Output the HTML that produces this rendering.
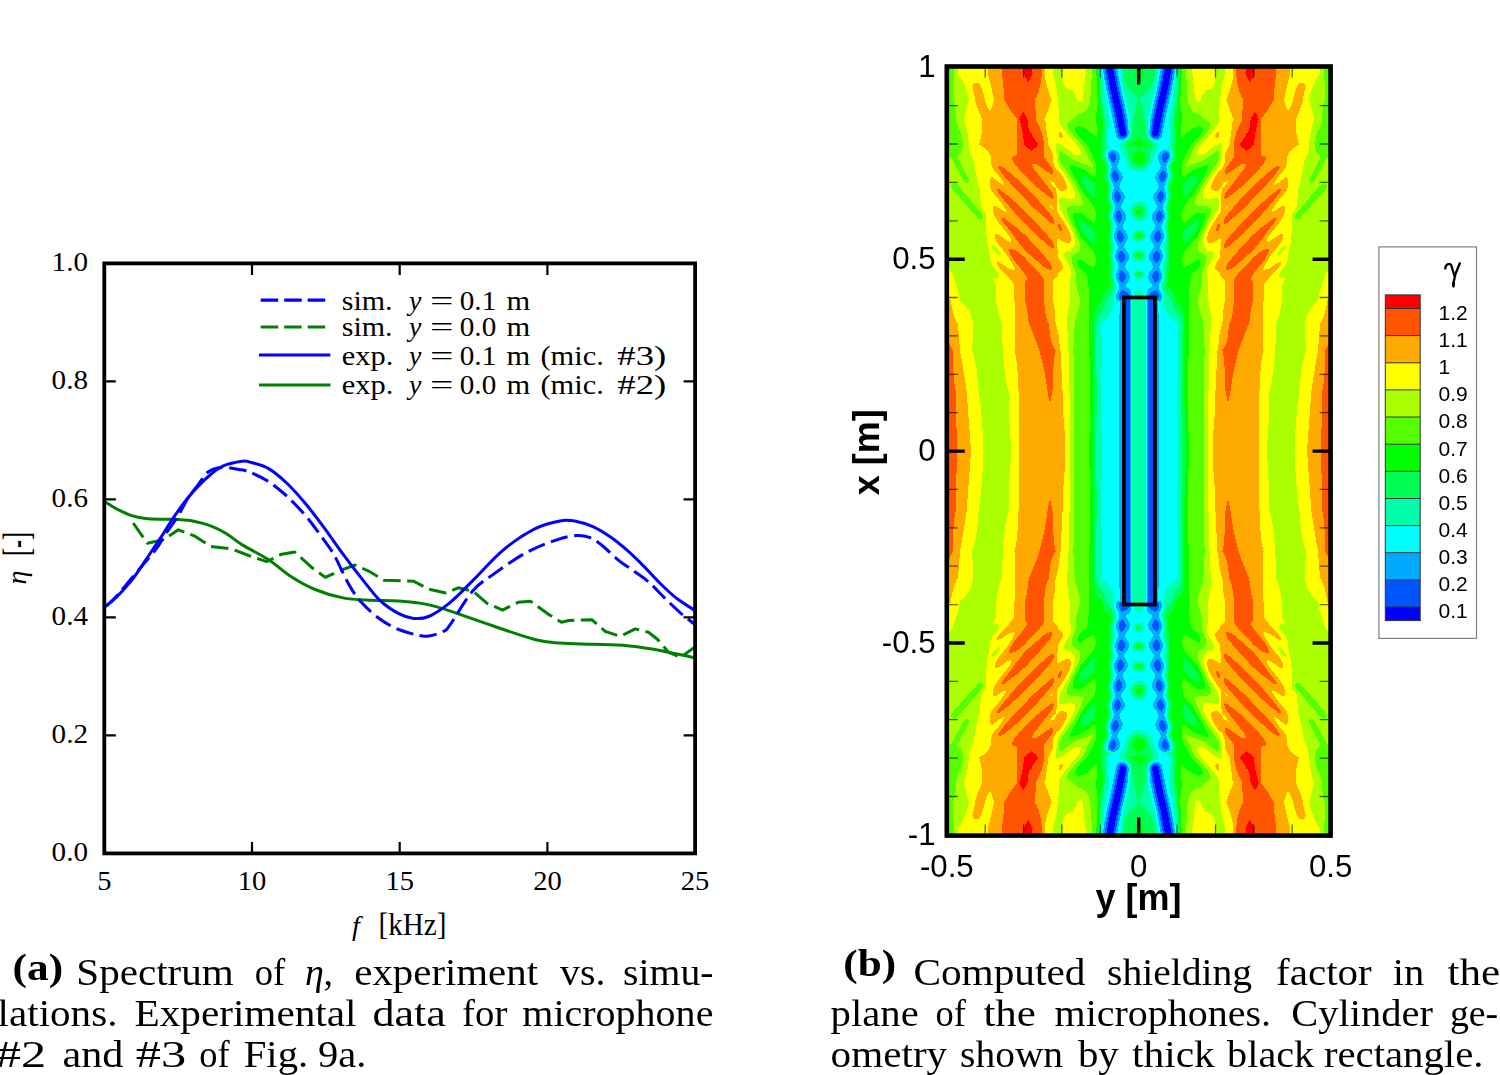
<!DOCTYPE html>
<html><head><meta charset="utf-8"><title>Figure</title>
<style>html,body{margin:0;padding:0;background:#fff;overflow:hidden}svg{display:block}</style>
</head><body>
<svg width="1500" height="1075" viewBox="0 0 1500 1075">
<rect width="1500" height="1075" fill="#fff"/>
<g fill="none" stroke-width="3" stroke-linejoin="round">
<path d="M105.5 502.2 C107.2 503.2 111.5 506.3 115.8 508.5 C120.1 510.7 126.3 513.9 131.6 515.6 C136.9 517.3 142.1 518.2 147.4 518.8 C152.7 519.4 157.9 519.1 163.2 519.2 C168.5 519.3 173.7 519.2 179.0 519.6 C184.3 520.0 189.6 520.5 194.9 521.5 C200.2 522.5 205.4 523.9 210.7 525.9 C216.0 527.9 221.2 530.6 226.5 533.8 C231.8 537.0 235.3 540.6 242.3 544.9 C249.3 549.2 260.5 554.5 268.6 559.8 C276.7 565.1 283.1 571.5 290.9 576.5 C298.6 581.5 306.4 585.9 315.1 589.5 C323.8 593.1 333.7 596.1 343.0 597.9 C352.3 599.7 361.6 599.8 370.9 600.3 C380.2 600.8 389.5 600.4 398.8 601.1 C408.1 601.8 417.8 602.6 426.7 604.4 C435.6 606.1 440.9 608.0 452.0 611.6 C463.1 615.2 479.5 621.4 493.3 626.0 C507.1 630.6 523.6 636.6 534.7 639.5 C545.8 642.4 550.2 642.3 560.0 643.1 C569.8 643.9 582.3 643.9 593.5 644.3 C604.7 644.7 617.2 644.9 627.0 645.7 C636.8 646.5 643.7 647.6 652.1 649.0 C660.5 650.4 670.1 652.5 677.2 654.0 C684.4 655.5 692.0 657.3 695.0 658.0" stroke="#008000"/>
<path d="M133.2 523.0 L147.4 543.3 L163.2 539.8 L178.3 529.8 L194.9 536.2 L210.7 546.4 L231.2 548.8 L250.0 556.0 L266.7 561.6 L281.6 554.2 L294.7 552.0 L311.4 567.2 L325.3 577.4 L339.3 570.9 L355.1 565.0 L369.1 571.3 L384.0 580.2 L413.7 581.2 L428.6 589.2 L445.8 593.0 L458.2 587.8 L472.7 591.0 L487.1 603.3 L502.6 610.1 L518.1 602.3 L530.5 601.3 L549.1 614.7 L561.5 622.3 L568.4 620.5 L591.8 619.7 L605.2 631.4 L620.3 636.4 L635.3 628.9 L648.7 632.3 L657.1 639.0 L668.8 652.4 L680.5 657.4 L695.0 647.0" stroke="#008000" stroke-dasharray="17.5 6.5"/>
<path d="M105.5 606.5 C107.2 604.9 111.1 602.1 115.8 597.0 C120.5 591.9 126.8 583.9 133.5 576.0 C140.2 568.1 150.6 556.2 155.8 549.4 C161.1 542.6 161.3 540.6 165.0 535.0 C168.7 529.4 174.2 522.2 178.0 516.0 C181.8 509.8 184.7 503.2 188.0 498.0 C191.3 492.8 194.7 489.3 198.0 485.0 C201.3 480.7 204.1 474.9 208.0 472.0 C211.9 469.1 216.5 467.8 221.7 467.4 C226.9 467.0 234.3 468.7 239.0 469.5 C243.7 470.3 245.1 470.3 250.0 472.3 C254.9 474.3 262.4 477.6 268.6 481.6 C274.8 485.6 281.0 490.8 287.2 496.5 C293.4 502.2 300.2 509.5 305.8 516.0 C311.4 522.5 316.1 529.2 320.7 535.6 C325.3 542.0 329.0 546.1 333.7 554.2 C338.4 562.3 344.0 575.9 348.6 584.0 C353.2 592.1 356.3 596.7 361.6 602.6 C366.9 608.5 374.0 614.8 380.2 619.3 C386.4 623.8 392.6 626.9 398.8 629.5 C405.0 632.1 412.4 634.0 417.4 635.1 C422.4 636.2 424.2 636.6 428.6 636.0 C433.0 635.4 439.9 633.2 443.5 631.4 C447.1 629.5 445.1 631.6 450.0 624.9 C454.9 618.2 465.5 599.4 472.7 591.0 C479.9 582.6 484.7 580.6 493.3 574.4 C501.9 568.2 514.0 559.4 524.3 553.7 C534.6 548.0 546.6 543.3 555.3 540.3 C564.0 537.3 570.9 535.9 576.7 535.5 C582.5 535.1 585.9 536.1 590.1 537.7 C594.3 539.3 597.1 541.4 601.9 545.2 C606.6 549.0 613.0 555.8 618.6 560.3 C624.2 564.8 630.3 568.4 635.3 572.0 C640.3 575.6 644.0 577.8 648.7 582.0 C653.5 586.2 658.5 591.9 663.8 597.1 C669.1 602.3 675.3 608.4 680.5 613.0 C685.7 617.6 692.6 622.6 695.0 624.5" stroke="#0000ff" stroke-dasharray="17.5 6.5"/>
<path d="M105.5 606.5 C107.2 605.0 111.5 602.1 115.8 597.8 C120.1 593.4 126.3 587.1 131.6 580.4 C136.9 573.7 142.1 565.3 147.4 557.5 C152.7 549.7 158.7 540.6 163.2 533.8 C167.7 526.9 170.3 522.2 174.3 516.4 C178.3 510.6 183.1 504.0 187.0 499.0 C190.9 494.0 194.1 490.5 198.0 486.4 C201.9 482.3 206.5 477.9 210.7 474.5 C214.9 471.1 218.0 468.0 223.3 465.8 C228.6 463.6 237.9 461.8 242.3 461.2 C246.8 460.6 245.6 460.9 250.0 462.1 C254.4 463.3 262.4 465.0 268.6 468.6 C274.8 472.2 281.0 477.6 287.2 483.5 C293.4 489.4 299.6 496.6 305.8 504.0 C312.0 511.4 318.2 519.7 324.4 528.1 C330.6 536.5 336.8 545.8 343.0 554.2 C349.2 562.6 355.4 570.6 361.6 578.4 C367.8 586.1 374.0 594.8 380.2 600.7 C386.4 606.6 393.2 610.8 398.8 613.7 C404.4 616.7 408.7 617.9 413.7 618.4 C418.7 618.9 422.6 619.1 428.6 616.5 C434.7 613.9 442.6 608.6 450.0 602.6 C457.4 596.6 463.8 589.4 472.7 580.6 C481.6 571.8 493.4 558.2 503.7 549.6 C514.0 541.0 525.3 533.7 534.7 528.9 C544.1 524.1 553.0 522.1 560.0 520.9 C567.0 519.6 571.1 520.4 576.7 521.4 C582.3 522.4 587.9 524.2 593.5 526.8 C599.1 529.4 604.6 532.9 610.2 536.8 C615.8 540.7 621.4 545.3 627.0 550.2 C632.6 555.1 638.1 560.5 643.7 566.1 C649.3 571.7 654.9 578.2 660.5 583.7 C666.1 589.2 671.5 594.3 677.2 598.8 C683.0 603.3 692.0 608.5 695.0 610.5" stroke="#0000ff"/>
</g>
<rect x="104.3" y="263.4" width="590.8" height="590.0" fill="none" stroke="#000" stroke-width="3.8"/>
<path d="M252.0 263.4v11.5M252.0 853.4v-11.5M399.7 263.4v11.5M399.7 853.4v-11.5M547.4 263.4v11.5M547.4 853.4v-11.5M104.3 735.4h11.5M695.1 735.4h-11.5M104.3 617.4h11.5M695.1 617.4h-11.5M104.3 499.4h11.5M695.1 499.4h-11.5M104.3 381.4h11.5M695.1 381.4h-11.5" stroke="#000" stroke-width="2.2" fill="none"/>
<g font-family="Liberation Serif" font-size="28" fill="#000">
<text x="88" y="860.6" text-anchor="end" textLength="36.4" lengthAdjust="spacingAndGlyphs">0.0</text>
<text x="88" y="742.6" text-anchor="end" textLength="36.4" lengthAdjust="spacingAndGlyphs">0.2</text>
<text x="88" y="624.6" text-anchor="end" textLength="36.4" lengthAdjust="spacingAndGlyphs">0.4</text>
<text x="88" y="506.6" text-anchor="end" textLength="36.4" lengthAdjust="spacingAndGlyphs">0.6</text>
<text x="88" y="388.6" text-anchor="end" textLength="36.4" lengthAdjust="spacingAndGlyphs">0.8</text>
<text x="88" y="270.6" text-anchor="end" textLength="36.4" lengthAdjust="spacingAndGlyphs">1.0</text>
<text x="104.3" y="889.8" text-anchor="middle" textLength="14.2" lengthAdjust="spacingAndGlyphs">5</text>
<text x="252.0" y="889.8" text-anchor="middle" textLength="28.5" lengthAdjust="spacingAndGlyphs">10</text>
<text x="399.7" y="889.8" text-anchor="middle" textLength="28.5" lengthAdjust="spacingAndGlyphs">15</text>
<text x="547.4" y="889.8" text-anchor="middle" textLength="28.5" lengthAdjust="spacingAndGlyphs">20</text>
<text x="695.1" y="889.8" text-anchor="middle" textLength="28.5" lengthAdjust="spacingAndGlyphs">25</text>
<text x="352" y="934.5" font-style="italic">f</text>
<text x="378.5" y="934.5" font-size="31" textLength="68" lengthAdjust="spacingAndGlyphs">[kHz]</text>
<text transform="translate(26 577.5) rotate(-90)" text-anchor="middle" font-style="italic">η</text>
<text transform="translate(28.7 544) rotate(-90)" text-anchor="middle" font-size="37" textLength="24" lengthAdjust="spacingAndGlyphs">[-]</text>
</g>
<g stroke-width="3.2" fill="none">
<path d="M260.7 300.1H326" stroke="#0000ff" stroke-dasharray="17.5 6"/>
<path d="M260.7 327H326" stroke="#008000" stroke-dasharray="17.5 6"/>
<path d="M259 355H330.4" stroke="#0000ff"/>
<path d="M259 385H330.4" stroke="#008000"/>
</g>
<g font-family="Liberation Serif" font-size="27.8" fill="#000">
<text x="341.8" y="309.6" textLength="50.8" lengthAdjust="spacingAndGlyphs">sim.</text>
<text x="409" y="309.6" font-style="italic">y</text>
<text x="430" y="309.6" textLength="23.5" lengthAdjust="spacingAndGlyphs">=</text>
<text x="459.8" y="309.6" textLength="36.4" lengthAdjust="spacingAndGlyphs">0.1</text>
<text x="506.6" y="309.6" textLength="23.7" lengthAdjust="spacingAndGlyphs">m</text>
<text x="341.8" y="336.2" textLength="50.8" lengthAdjust="spacingAndGlyphs">sim.</text>
<text x="409" y="336.2" font-style="italic">y</text>
<text x="430" y="336.2" textLength="23.5" lengthAdjust="spacingAndGlyphs">=</text>
<text x="459.8" y="336.2" textLength="36.4" lengthAdjust="spacingAndGlyphs">0.0</text>
<text x="506.6" y="336.2" textLength="23.7" lengthAdjust="spacingAndGlyphs">m</text>
<text x="341.8" y="364.5" textLength="51.5" lengthAdjust="spacingAndGlyphs">exp.</text>
<text x="409" y="364.5" font-style="italic">y</text>
<text x="430" y="364.5" textLength="23.5" lengthAdjust="spacingAndGlyphs">=</text>
<text x="459.8" y="364.5" textLength="36.4" lengthAdjust="spacingAndGlyphs">0.1</text>
<text x="506.6" y="364.5" textLength="23.7" lengthAdjust="spacingAndGlyphs">m</text>
<text x="540.5" y="364.5" textLength="63.3" lengthAdjust="spacingAndGlyphs">(mic.</text>
<text x="617.3" y="364.5" textLength="49.1" lengthAdjust="spacingAndGlyphs">#3)</text>
<text x="341.8" y="394.0" textLength="51.5" lengthAdjust="spacingAndGlyphs">exp.</text>
<text x="409" y="394.0" font-style="italic">y</text>
<text x="430" y="394.0" textLength="23.5" lengthAdjust="spacingAndGlyphs">=</text>
<text x="459.8" y="394.0" textLength="36.4" lengthAdjust="spacingAndGlyphs">0.0</text>
<text x="506.6" y="394.0" textLength="23.7" lengthAdjust="spacingAndGlyphs">m</text>
<text x="540.5" y="394.0" textLength="63.3" lengthAdjust="spacingAndGlyphs">(mic.</text>
<text x="617.3" y="394.0" textLength="49.1" lengthAdjust="spacingAndGlyphs">#2)</text>
</g>
<g>
</g>
<defs><g id="q" shape-rendering="crispEdges">
<path fill="#0000ff" d="M14 315h4v1h-4zM13 316h6v3h-6zM13 319h7v1h-7zM14 320h6v4h-6zM14 324h7v2h-7zM15 326h6v3h-6zM15 329h7v3h-7zM16 332h6v2h-6zM16 334h7v3h-7zM17 337h6v2h-6zM17 339h7v3h-7zM18 342h6v2h-6zM18 344h7v2h-7zM19 346h6v2h-6zM19 348h7v3h-7zM20 351h6v1h-6zM20 352h7v3h-7zM21 355h6v2h-6zM21 357h7v2h-7zM22 359h6v2h-6zM22 361h7v3h-7zM23 364h6v2h-6zM23 366h7v3h-7zM24 369h6v3h-6zM24 372h7v3h-7zM25 375h6v2h-6zM25 377h7v3h-7zM26 380h6v2h-6zM26 382h7v3h-7zM27 385h6v1h-6z"/>
<path fill="#0055ff" d="M9 0h6v1h-6zM9 1h7v1h-7zM9 2h6v12h-6zM9 14h7v1h-7zM9 15h6v3h-6zM9 18h7v1h-7zM9 19h6v53h-6zM9 72h7v1h-7zM9 73h6v34h-6zM9 107h7v1h-7zM9 108h6v42h-6zM9 150h8v1h-8zM9 151h10v1h-10zM9 152h11v4h-11zM10 156h10v1h-10zM11 157h8v1h-8zM12 158h7v1h-7zM14 159h4v1h-4zM16 160h1v1h-1zM16 168h1v1h-1zM15 169h3v1h-3zM15 170h4v1h-4zM14 171h6v2h-6zM13 173h7v3h-7zM14 176h6v2h-6zM15 178h4v1h-4zM16 179h3v1h-3zM17 180h1v1h-1zM17 188h1v1h-1zM16 189h3v1h-3zM15 190h5v2h-5zM14 192h7v5h-7zM15 197h6v1h-6zM16 198h4v1h-4zM16 199h3v1h-3zM18 208h1v1h-1zM17 209h3v1h-3zM16 210h5v2h-5zM15 212h7v4h-7zM16 216h6v2h-6zM17 218h4v1h-4zM18 219h3v1h-3zM19 220h1v1h-1zM19 228h1v1h-1zM19 229h2v1h-2zM18 230h4v1h-4zM17 231h6v3h-6zM17 234h7v2h-7zM17 236h6v1h-6zM18 237h5v2h-5zM19 239h3v1h-3zM20 240h1v1h-1zM21 248h1v1h-1zM20 249h3v1h-3zM19 250h4v1h-4zM19 251h5v1h-5zM18 252h6v1h-6zM18 253h7v3h-7zM19 256h6v1h-6zM19 257h5v1h-5zM20 258h4v1h-4zM21 259h2v1h-2zM22 260h1v1h-1zM22 269h2v1h-2zM21 270h4v1h-4zM21 271h5v1h-5zM20 272h6v1h-6zM20 273h7v3h-7zM21 276h6v2h-6zM22 278h4v1h-4zM23 279h3v1h-3zM24 280h1v1h-1zM25 288h1v1h-1zM24 289h3v1h-3zM24 290h4v1h-4zM23 291h5v1h-5zM23 292h6v2h-6zM23 294h7v2h-7zM24 296h6v1h-6zM24 297h5v1h-5zM26 298h2v1h-2zM14 313h5v1h-5zM13 314h7v1h-7zM18 315h3v1h-3zM12 315h2v1h-2zM19 316h2v2h-2zM19 318h3v1h-3zM12 316h1v4h-1zM20 319h2v4h-2zM20 323h3v1h-3zM12 320h2v5h-2zM13 325h1v1h-1zM21 324h2v4h-2zM21 328h3v1h-3zM13 326h2v6h-2zM22 329h2v5h-2zM14 332h2v5h-2zM23 334h2v5h-2zM15 337h2v5h-2zM24 339h2v4h-2zM24 343h3v1h-3zM16 342h2v4h-2zM16 346h3v1h-3zM25 344h2v4h-2zM17 347h2v4h-2zM26 348h2v4h-2zM18 351h2v4h-2zM27 352h2v4h-2zM27 356h3v1h-3zM19 355h2v4h-2zM19 359h3v1h-3zM28 357h2v4h-2zM20 360h2v4h-2zM29 361h2v5h-2zM21 364h2v5h-2zM21 369h3v1h-3zM30 366h2v5h-2zM30 371h3v1h-3zM22 370h2v5h-2zM31 372h2v5h-2zM23 375h2v5h-2zM32 377h2v5h-2zM24 380h2v5h-2zM33 382h2v4h-2zM24 385h3v1h-3z"/>
<path fill="#00aaff" d="M15 0h5v1h-5zM16 1h4v1h-4zM15 2h5v12h-5zM16 14h4v1h-4zM15 15h5v3h-5zM16 18h4v1h-4zM15 19h5v53h-5zM16 72h4v1h-4zM15 73h5v34h-5zM16 107h4v1h-4zM15 108h5v29h-5zM15 137h4v13h-4zM17 150h5v1h-5zM19 151h3v1h-3zM8 0h1v153h-1zM7 153h2v3h-2zM20 152h3v5h-3zM8 156h2v1h-2zM8 157h3v1h-3zM19 157h3v2h-3zM8 158h4v1h-4zM8 159h6v1h-6zM18 159h3v1h-3zM9 160h7v1h-7zM17 160h4v1h-4zM9 161h11v1h-11zM10 162h10v1h-10zM12 163h8v1h-8zM13 164h7v3h-7zM12 167h8v1h-8zM11 168h5v1h-5zM17 168h4v1h-4zM18 169h3v1h-3zM11 169h4v1h-4zM19 170h3v1h-3zM10 170h5v1h-5zM10 171h4v1h-4zM20 171h2v1h-2zM9 172h5v1h-5zM9 173h4v3h-4zM20 172h3v6h-3zM10 176h4v2h-4zM10 178h5v1h-5zM19 178h3v2h-3zM11 179h5v1h-5zM18 180h3v1h-3zM12 180h5v1h-5zM13 181h8v2h-8zM14 183h6v2h-6zM14 185h7v1h-7zM13 186h8v2h-8zM12 188h5v1h-5zM18 188h4v1h-4zM19 189h3v1h-3zM12 189h4v1h-4zM11 190h4v1h-4zM20 190h3v2h-3zM10 191h5v1h-5zM21 192h3v5h-3zM10 192h4v5h-4zM11 197h4v1h-4zM21 197h2v1h-2zM11 198h5v1h-5zM20 198h3v1h-3zM19 199h4v1h-4zM12 199h4v1h-4zM13 200h9v2h-9zM14 202h7v1h-7zM15 203h6v3h-6zM14 206h8v2h-8zM19 208h4v1h-4zM13 208h5v1h-5zM20 209h3v1h-3zM13 209h4v1h-4zM21 210h3v2h-3zM12 210h4v2h-4zM11 212h4v4h-4zM22 212h3v6h-3zM12 216h4v2h-4zM13 218h4v1h-4zM21 218h3v2h-3zM13 219h5v1h-5zM14 220h5v1h-5zM20 220h3v1h-3zM15 221h8v1h-8zM16 222h7v1h-7zM16 223h6v2h-6zM16 225h7v2h-7zM15 227h8v1h-8zM15 228h4v1h-4zM20 228h4v1h-4zM21 229h3v1h-3zM14 229h5v1h-5zM22 230h3v1h-3zM14 230h4v1h-4zM23 231h2v1h-2zM23 232h3v2h-3zM24 234h2v2h-2zM13 231h4v6h-4zM23 236h3v2h-3zM14 237h4v2h-4zM23 238h2v1h-2zM22 239h3v1h-3zM15 239h4v1h-4zM16 240h4v1h-4zM21 240h4v1h-4zM17 241h7v2h-7zM18 243h6v3h-6zM17 246h7v1h-7zM17 247h8v1h-8zM22 248h3v1h-3zM16 248h5v1h-5zM16 249h4v1h-4zM23 249h3v2h-3zM15 250h4v2h-4zM24 251h3v2h-3zM14 252h4v4h-4zM25 253h2v4h-2zM15 256h4v2h-4zM24 257h3v2h-3zM16 258h4v1h-4zM17 259h4v1h-4zM23 259h3v2h-3zM18 260h4v1h-4zM18 261h8v1h-8zM19 262h6v2h-6zM20 264h5v1h-5zM19 265h7v3h-7zM18 268h9v1h-9zM24 269h3v1h-3zM18 269h4v1h-4zM25 270h3v1h-3zM17 270h4v2h-4zM26 271h2v2h-2zM16 272h4v3h-4zM17 275h3v1h-3zM27 273h2v5h-2zM17 276h4v2h-4zM18 278h4v1h-4zM26 278h2v2h-2zM19 279h4v1h-4zM20 280h4v1h-4zM25 280h3v1h-3zM20 281h8v1h-8zM21 282h7v1h-7zM21 283h6v1h-6zM22 284h5v1h-5zM22 285h6v1h-6zM21 286h7v2h-7zM20 288h5v1h-5zM26 288h3v1h-3zM27 289h2v1h-2zM20 289h4v2h-4zM28 290h2v2h-2zM29 292h2v2h-2zM19 291h4v5h-4zM30 294h1v3h-1zM20 296h4v2h-4zM29 297h2v1h-2zM21 298h5v1h-5zM28 298h3v1h-3zM22 299h8v1h-8zM24 300h4v1h-4zM15 311h5v1h-5zM13 312h8v1h-8zM19 313h3v1h-3zM12 313h2v1h-2zM11 314h2v1h-2zM20 314h3v1h-3zM11 315h1v1h-1zM21 315h2v3h-2zM10 316h2v5h-2zM22 318h2v5h-2zM11 321h1v4h-1zM23 323h2v5h-2zM11 325h2v7h-2zM24 328h2v5h-2zM24 333h3v1h-3zM12 332h2v5h-2zM25 334h2v4h-2zM25 338h3v1h-3zM13 337h2v5h-2zM26 339h2v4h-2zM14 342h2v5h-2zM27 343h2v4h-2zM27 347h3v1h-3zM15 347h2v4h-2zM28 348h2v4h-2zM16 351h2v4h-2zM29 352h2v4h-2zM17 355h2v4h-2zM30 356h2v4h-2zM18 359h1v1h-1zM30 360h3v1h-3zM18 360h2v4h-2zM18 364h3v1h-3zM31 361h2v5h-2zM19 365h2v5h-2zM32 366h2v5h-2zM20 370h2v5h-2zM33 371h2v6h-2zM34 377h1v1h-1zM21 375h2v5h-2zM21 380h3v1h-3zM34 378h2v4h-2zM22 381h2v5h-2zM35 382h1v4h-1z"/>
<path fill="#00ffff" d="M20 0h18v128h-18zM20 128h17v1h-17zM20 129h16v1h-16zM20 130h14v1h-14zM20 131h13v1h-13zM20 132h12v1h-12zM20 133h11v1h-11zM20 134h10v2h-10zM20 136h9v1h-9zM19 137h9v2h-9zM19 139h8v2h-8zM19 141h7v3h-7zM19 144h6v4h-6zM19 148h5v2h-5zM7 0h1v151h-1zM22 150h3v2h-3zM6 151h2v2h-2zM5 153h2v3h-2zM23 152h2v5h-2zM5 156h3v2h-3zM22 157h3v1h-3zM22 158h2v1h-2zM4 158h4v1h-4zM3 159h5v1h-5zM21 159h3v2h-3zM2 160h7v1h-7zM0 161h9v1h-9zM0 162h10v1h-10zM0 163h12v1h-12zM0 164h13v3h-13zM20 161h3v7h-3zM0 167h12v1h-12zM21 168h2v1h-2zM0 168h11v2h-11zM21 169h3v1h-3zM22 170h2v2h-2zM0 170h10v2h-10zM3 172h6v1h-6zM4 173h5v1h-5zM5 174h4v2h-4zM23 172h2v6h-2zM6 176h4v2h-4zM22 178h3v1h-3zM5 178h5v1h-5zM4 179h7v1h-7zM22 179h2v1h-2zM3 180h9v1h-9zM21 180h3v3h-3zM0 181h13v2h-13zM20 183h4v2h-4zM0 183h14v3h-14zM21 185h3v3h-3zM0 186h13v2h-13zM0 188h12v2h-12zM22 188h3v2h-3zM4 190h7v1h-7zM23 190h2v1h-2zM23 191h3v1h-3zM5 191h5v1h-5zM6 192h4v1h-4zM24 192h2v1h-2zM24 193h3v4h-3zM7 193h3v4h-3zM7 197h4v1h-4zM6 198h5v1h-5zM23 197h3v3h-3zM5 199h7v1h-7zM4 200h9v1h-9zM22 200h3v2h-3zM0 201h13v1h-13zM0 202h14v1h-14zM21 202h4v4h-4zM0 203h15v3h-15zM0 206h14v2h-14zM22 206h3v2h-3zM23 208h3v2h-3zM0 208h13v2h-13zM24 210h2v1h-2zM4 210h8v1h-8zM24 211h3v1h-3zM5 211h7v1h-7zM6 212h5v1h-5zM7 213h4v3h-4zM25 212h2v6h-2zM7 216h5v2h-5zM6 218h7v1h-7zM24 218h3v1h-3zM5 219h8v1h-8zM24 219h2v1h-2zM4 220h10v1h-10zM0 221h15v1h-15zM23 220h3v3h-3zM22 223h4v2h-4zM0 222h16v5h-16zM23 225h3v3h-3zM0 227h15v2h-15zM24 228h2v1h-2zM0 229h14v1h-14zM24 229h3v1h-3zM4 230h10v1h-10zM25 230h2v2h-2zM5 231h8v1h-8zM6 232h7v1h-7zM26 232h1v2h-1zM7 233h6v1h-6zM26 234h2v2h-2zM8 234h5v3h-5zM26 236h1v2h-1zM9 237h5v2h-5zM9 239h6v1h-6zM25 238h2v3h-2zM9 240h7v1h-7zM9 241h8v2h-8zM24 241h3v2h-3zM8 243h10v2h-10zM24 243h2v2h-2zM7 245h11v1h-11zM24 245h3v2h-3zM6 246h11v1h-11zM5 247h12v1h-12zM25 247h2v2h-2zM4 248h12v1h-12zM0 249h16v1h-16zM26 249h2v2h-2zM0 250h15v2h-15zM27 251h1v2h-1zM0 252h14v4h-14zM27 253h2v4h-2zM0 256h15v2h-15zM27 257h1v2h-1zM0 258h16v1h-16zM0 259h17v1h-17zM26 259h2v3h-2zM0 260h18v2h-18zM0 262h19v2h-19zM25 262h3v3h-3zM0 264h20v1h-20zM26 265h2v3h-2zM0 265h19v3h-19zM27 268h2v2h-2zM0 268h18v2h-18zM28 270h1v1h-1zM0 270h17v2h-17zM28 271h2v2h-2zM0 272h16v3h-16zM29 273h1v5h-1zM0 275h17v3h-17zM0 278h18v1h-18zM3 279h16v1h-16zM28 278h2v3h-2zM6 280h14v1h-14zM7 281h13v1h-13zM28 281h1v2h-1zM9 282h12v1h-12zM10 283h11v1h-11zM27 283h2v2h-2zM11 284h11v1h-11zM28 285h1v1h-1zM12 285h10v1h-10zM12 286h9v1h-9zM28 286h2v2h-2zM13 287h8v1h-8zM13 288h7v1h-7zM29 288h1v1h-1zM29 289h2v1h-2zM14 289h6v2h-6zM30 290h1v1h-1zM30 291h2v1h-2zM14 291h5v2h-5zM31 292h1v1h-1zM15 293h4v3h-4zM16 296h4v2h-4zM31 293h2v6h-2zM17 298h4v1h-4zM30 299h2v1h-2zM17 299h5v1h-5zM18 300h6v1h-6zM28 300h4v1h-4zM19 301h7v1h-7zM19 302h9v2h-9zM19 304h10v1h-10zM19 305h12v3h-12zM18 308h13v1h-13zM16 309h15v1h-15zM14 310h17v1h-17zM20 311h11v1h-11zM12 311h3v1h-3zM21 312h10v1h-10zM11 312h2v1h-2zM10 313h2v1h-2zM22 313h9v1h-9zM10 314h1v1h-1zM9 315h2v1h-2zM23 314h8v4h-8zM9 316h1v5h-1zM24 318h7v5h-7zM25 323h6v1h-6zM25 324h5v4h-5zM9 321h2v11h-2zM26 328h4v5h-4zM9 332h3v2h-3zM27 333h3v4h-3zM10 334h2v3h-2zM27 337h4v1h-4zM10 337h3v2h-3zM28 338h3v4h-3zM11 339h2v3h-2zM11 342h3v1h-3zM28 342h4v1h-4zM29 343h3v1h-3zM29 344h4v2h-4zM12 343h2v4h-2zM29 346h5v1h-5zM12 347h3v1h-3zM13 348h2v3h-2zM30 347h4v5h-4zM13 351h3v2h-3zM14 353h2v2h-2zM31 352h3v4h-3zM14 355h3v1h-3zM32 356h2v1h-2zM15 356h2v3h-2zM32 357h3v3h-3zM16 359h2v5h-2zM17 364h1v1h-1zM33 360h2v6h-2zM17 365h2v5h-2zM34 366h2v5h-2zM17 370h3v1h-3zM35 371h1v3h-1zM18 371h2v4h-2zM35 374h2v4h-2zM18 375h3v6h-3zM36 378h1v4h-1zM18 381h4v5h-4zM36 382h2v4h-2z"/>
<path fill="#00ffaa" d="M38 0h5v34h-5zM38 34h4v39h-4zM38 73h5v55h-5zM37 128h5v1h-5zM36 129h6v1h-6zM34 130h8v1h-8zM33 131h9v1h-9zM32 132h10v1h-10zM31 133h10v1h-10zM30 134h10v2h-10zM29 136h10v1h-10zM28 137h10v1h-10zM28 138h9v1h-9zM27 139h10v1h-10zM27 140h9v1h-9zM26 141h10v1h-10zM26 142h9v2h-9zM25 144h9v3h-9zM25 147h8v1h-8zM24 148h9v2h-9zM0 0h7v151h-7zM25 150h7v2h-7zM0 151h6v2h-6zM25 152h6v1h-6zM25 153h5v1h-5zM25 154h4v1h-4zM25 155h3v2h-3zM0 153h5v5h-5zM25 157h2v1h-2zM24 158h3v1h-3zM0 158h4v1h-4zM0 159h3v1h-3zM24 159h2v2h-2zM0 160h2v1h-2zM23 161h3v1h-3zM23 162h2v7h-2zM24 169h2v3h-2zM0 172h3v1h-3zM0 173h4v1h-4zM2 174h3v1h-3zM3 175h2v1h-2zM3 176h3v2h-3zM25 172h2v7h-2zM2 178h3v1h-3zM0 179h4v1h-4zM0 180h3v1h-3zM24 179h3v9h-3zM25 188h2v2h-2zM0 190h4v1h-4zM25 190h3v1h-3zM0 191h5v1h-5zM26 191h2v2h-2zM3 192h3v1h-3zM4 193h3v1h-3zM27 193h1v4h-1zM5 194h2v3h-2zM4 197h3v1h-3zM3 198h3v1h-3zM26 197h2v3h-2zM0 199h5v1h-5zM0 200h4v1h-4zM25 200h3v8h-3zM26 208h2v3h-2zM0 210h4v1h-4zM0 211h5v1h-5zM3 212h3v1h-3zM4 213h3v1h-3zM5 214h2v3h-2zM4 217h3v1h-3zM27 211h1v8h-1zM3 218h3v1h-3zM0 219h5v1h-5zM0 220h4v1h-4zM26 219h2v4h-2zM26 223h1v3h-1zM26 226h2v3h-2zM27 229h1v2h-1zM0 230h4v1h-4zM0 231h5v1h-5zM0 232h6v1h-6zM27 231h2v3h-2zM2 233h5v1h-5zM4 234h4v1h-4zM28 234h1v2h-1zM5 235h3v2h-3zM27 236h2v4h-2zM6 237h3v5h-3zM27 240h1v3h-1zM5 242h4v1h-4zM5 243h3v1h-3zM26 243h2v2h-2zM4 244h4v1h-4zM2 245h5v1h-5zM27 245h1v2h-1zM0 246h6v1h-6zM0 247h5v1h-5zM27 247h2v2h-2zM0 248h4v1h-4zM28 249h1v2h-1zM28 251h2v2h-2zM29 253h1v4h-1zM28 257h2v3h-2zM28 260h1v6h-1zM28 266h2v2h-2zM29 268h1v2h-1zM29 270h2v1h-2zM30 271h1v2h-1zM30 273h2v5h-2zM0 279h3v1h-3zM30 278h1v3h-1zM0 280h6v1h-6zM0 281h7v1h-7zM0 282h9v1h-9zM1 283h9v1h-9zM5 284h6v1h-6zM29 281h2v5h-2zM6 285h6v1h-6zM30 286h1v1h-1zM7 286h5v1h-5zM8 287h5v1h-5zM30 287h2v2h-2zM9 288h4v1h-4zM9 289h5v1h-5zM31 289h2v2h-2zM10 290h4v3h-4zM32 291h2v2h-2zM10 293h5v1h-5zM11 294h4v2h-4zM11 296h5v2h-5zM33 293h2v6h-2zM11 298h6v1h-6zM12 299h5v1h-5zM32 299h2v2h-2zM12 300h6v1h-6zM12 301h7v1h-7zM26 301h6v1h-6zM28 302h5v2h-5zM13 302h6v2h-6zM29 304h5v1h-5zM14 304h5v2h-5zM15 306h4v1h-4zM14 307h5v1h-5zM13 308h5v1h-5zM12 309h4v1h-4zM11 310h3v1h-3zM10 311h2v1h-2zM9 312h2v1h-2zM9 313h1v1h-1zM8 314h2v1h-2zM8 315h1v1h-1zM31 305h3v19h-3zM7 316h2v11h-2zM6 327h3v5h-3zM30 324h4v9h-4zM5 332h4v2h-4zM30 333h5v4h-5zM5 334h5v4h-5zM4 338h6v1h-6zM31 337h4v5h-4zM4 339h7v4h-7zM32 342h4v2h-4zM33 344h3v2h-3zM3 343h9v4h-9zM34 346h2v2h-2zM2 347h10v1h-10zM2 348h11v1h-11zM34 348h3v4h-3zM1 349h12v4h-12zM2 353h12v1h-12zM3 354h11v1h-11zM4 355h10v1h-10zM34 352h4v5h-4zM5 356h10v1h-10zM6 357h9v1h-9zM7 358h8v1h-8zM8 359h8v1h-8zM9 360h7v1h-7zM10 361h6v1h-6zM11 362h5v2h-5zM35 357h3v9h-3zM12 364h5v2h-5zM13 366h4v2h-4zM14 368h3v1h-3zM36 366h2v5h-2zM15 369h2v2h-2zM36 371h3v3h-3zM15 371h3v4h-3zM37 374h2v8h-2zM16 375h2v11h-2zM38 382h1v4h-1z"/>
<path fill="#00ff55" d="M43 0h3v34h-3zM42 34h4v8h-4zM42 42h3v31h-3zM43 73h2v27h-2zM43 100h3v1h-3zM43 101h2v27h-2zM42 128h3v5h-3zM41 133h4v1h-4zM40 134h5v1h-5zM40 135h4v1h-4zM39 136h5v1h-5zM38 137h6v1h-6zM37 138h7v2h-7zM36 140h7v2h-7zM35 142h8v1h-8zM35 143h7v1h-7zM34 144h8v1h-8zM34 145h7v1h-7zM34 146h6v1h-6zM33 147h6v1h-6zM33 148h5v1h-5zM33 149h4v1h-4zM32 150h5v1h-5zM32 151h4v1h-4zM31 152h5v1h-5zM30 153h6v1h-6zM29 154h7v1h-7zM28 155h7v2h-7zM27 157h8v1h-8zM27 158h7v1h-7zM26 159h8v1h-8zM26 160h7v1h-7zM26 161h6v1h-6zM25 162h6v1h-6zM25 163h5v1h-5zM25 164h4v1h-4zM25 165h3v4h-3zM26 169h3v3h-3zM0 174h2v1h-2zM27 172h2v6h-2zM0 175h3v3h-3zM0 178h2v1h-2zM27 178h3v12h-3zM0 192h3v1h-3zM0 193h4v1h-4zM1 194h4v1h-4zM2 195h3v1h-3zM1 196h4v1h-4zM0 197h4v1h-4zM0 198h3v1h-3zM44 207h2v1h-2zM44 208h3v1h-3zM44 209h4v1h-4zM44 210h5v1h-5zM44 211h6v1h-6zM0 212h3v1h-3zM44 212h7v2h-7zM0 213h4v1h-4zM44 214h8v1h-8zM44 215h9v1h-9zM2 214h3v3h-3zM44 216h10v1h-10zM44 217h11v1h-11zM0 217h4v1h-4zM44 218h12v1h-12zM0 218h3v1h-3zM28 190h2v30h-2zM45 219h11v1h-11zM45 220h12v1h-12zM46 221h12v1h-12zM28 220h1v3h-1zM47 222h12v1h-12zM48 223h11v1h-11zM50 224h9v1h-9zM27 223h2v3h-2zM51 225h8v1h-8zM52 226h8v1h-8zM53 227h7v1h-7zM28 226h1v3h-1zM55 228h5v1h-5zM56 229h4v1h-4zM28 229h2v2h-2zM57 230h2v1h-2zM0 233h2v1h-2zM0 234h4v1h-4zM0 235h5v2h-5zM2 237h4v1h-4zM29 231h2v8h-2zM29 239h1v1h-1zM3 238h3v3h-3zM2 241h4v1h-4zM0 242h5v2h-5zM0 244h4v1h-4zM0 245h2v1h-2zM28 240h2v7h-2zM29 247h1v1h-1zM29 248h2v3h-2zM30 251h2v3h-2zM45 253h1v1h-1zM44 254h3v1h-3zM30 254h3v2h-3zM44 255h4v2h-4zM44 257h5v1h-5zM43 258h7v1h-7zM30 256h2v4h-2zM44 259h7v1h-7zM44 260h8v1h-8zM44 261h9v2h-9zM44 263h10v1h-10zM44 264h11v1h-11zM29 260h2v6h-2zM45 265h11v2h-11zM30 266h1v1h-1zM45 267h12v1h-12zM30 267h2v2h-2zM46 268h11v1h-11zM30 269h3v1h-3zM47 269h10v1h-10zM31 270h2v1h-2zM49 270h9v1h-9zM50 271h8v1h-8zM31 271h3v2h-3zM51 272h7v1h-7zM52 273h6v1h-6zM32 273h2v1h-2zM54 274h4v1h-4zM32 274h3v2h-3zM32 276h2v2h-2zM31 278h3v3h-3zM0 283h1v1h-1zM0 284h5v1h-5zM31 281h2v5h-2zM0 285h6v1h-6zM31 286h3v1h-3zM0 286h7v1h-7zM32 287h2v1h-2zM3 287h5v1h-5zM32 288h3v1h-3zM4 288h5v1h-5zM33 289h2v1h-2zM5 289h4v1h-4zM33 290h3v1h-3zM34 291h2v1h-2zM34 292h3v1h-3zM6 290h4v4h-4zM35 293h2v2h-2zM35 295h3v1h-3zM6 294h5v3h-5zM5 297h6v1h-6zM35 296h2v3h-2zM4 298h7v1h-7zM3 299h9v1h-9zM34 299h3v2h-3zM2 300h10v1h-10zM32 301h5v1h-5zM0 301h12v1h-12zM33 302h4v2h-4zM0 302h13v2h-13zM2 304h12v1h-12zM5 305h9v1h-9zM10 306h5v1h-5zM7 307h7v1h-7zM6 308h7v1h-7zM4 309h8v1h-8zM3 310h8v1h-8zM2 311h8v1h-8zM1 312h8v2h-8zM0 314h8v2h-8zM34 304h3v16h-3zM0 316h7v11h-7zM0 327h6v5h-6zM34 320h2v13h-2zM35 333h1v1h-1zM35 334h2v2h-2zM0 332h5v6h-5zM35 336h3v6h-3zM0 338h4v5h-4zM36 342h2v1h-2zM0 343h3v4h-3zM36 343h3v5h-3zM0 347h2v2h-2zM37 348h2v4h-2zM0 349h1v4h-1zM0 353h2v1h-2zM0 354h3v1h-3zM0 355h4v1h-4zM0 356h5v1h-5zM0 357h6v1h-6zM38 352h1v7h-1zM0 358h7v1h-7zM0 359h8v1h-8zM0 360h9v1h-9zM0 361h10v1h-10zM0 362h11v2h-11zM0 364h12v2h-12zM0 366h13v2h-13zM0 368h14v1h-14zM38 359h2v12h-2zM0 369h15v3h-15zM39 371h1v2h-1zM1 372h14v1h-14zM2 373h13v1h-13zM3 374h12v1h-12zM4 375h12v2h-12zM5 377h11v1h-11zM39 373h2v13h-2zM4 378h12v8h-12z"/>
<path fill="#00ff00" d="M46 0h4v18h-4zM46 18h3v24h-3zM45 42h4v51h-4zM45 93h5v7h-5zM46 100h4v1h-4zM45 101h5v34h-5zM44 135h6v5h-6zM43 140h7v3h-7zM42 143h8v2h-8zM41 145h9v1h-9zM40 146h10v1h-10zM39 147h11v1h-11zM38 148h12v1h-12zM37 149h13v2h-13zM36 151h14v4h-14zM35 155h15v3h-15zM34 158h16v2h-16zM33 160h17v1h-17zM32 161h18v1h-18zM31 162h19v1h-19zM30 163h20v1h-20zM29 164h21v1h-21zM28 165h23v4h-23zM29 169h22v3h-22zM29 172h23v4h-23zM29 176h24v2h-24zM30 178h24v1h-24zM30 179h26v1h-26zM30 180h27v1h-27zM30 181h28v1h-28zM30 182h29v1h-29zM30 183h30v1h-30zM30 184h15v1h-15zM47 184h13v1h-13zM49 185h12v1h-12zM51 186h10v1h-10zM30 185h14v3h-14zM53 187h8v1h-8zM54 188h8v1h-8zM56 189h5v1h-5zM57 190h4v1h-4zM58 191h1v1h-1zM30 188h13v6h-13zM0 194h1v1h-1zM0 195h2v1h-2zM30 194h14v3h-14zM0 196h1v1h-1zM30 197h15v2h-15zM30 199h16v2h-16zM30 201h17v1h-17zM30 202h18v1h-18zM30 203h19v1h-19zM30 204h20v1h-20zM30 205h21v1h-21zM30 206h22v1h-22zM46 207h6v1h-6zM47 208h6v1h-6zM48 209h6v1h-6zM49 210h6v1h-6zM50 211h6v1h-6zM51 212h6v1h-6zM51 213h7v1h-7zM52 214h7v1h-7zM53 215h6v1h-6zM0 214h2v3h-2zM54 216h5v1h-5zM55 217h5v1h-5zM30 207h14v12h-14zM56 218h4v1h-4zM30 219h15v1h-15zM56 219h5v1h-5zM57 220h4v1h-4zM29 220h16v1h-16zM29 221h17v1h-17zM58 221h4v1h-4zM59 222h3v1h-3zM29 222h18v1h-18zM29 223h19v1h-19zM59 223h4v2h-4zM29 224h21v1h-21zM29 225h22v1h-22zM59 225h5v1h-5zM29 226h23v1h-23zM60 226h4v2h-4zM29 227h24v1h-24zM29 228h16v1h-16zM46 228h9v1h-9zM60 228h5v2h-5zM47 229h9v1h-9zM30 229h14v2h-14zM59 230h6v1h-6zM48 230h9v1h-9zM49 231h17v1h-17zM51 232h15v1h-15zM52 233h14v1h-14zM53 234h13v1h-13zM54 235h12v1h-12zM56 236h10v1h-10zM57 237h8v1h-8zM0 237h2v1h-2zM31 231h12v8h-12zM0 238h3v3h-3zM0 241h2v1h-2zM30 239h14v5h-14zM30 244h15v2h-15zM30 246h16v1h-16zM30 247h17v1h-17zM31 248h17v1h-17zM31 249h18v2h-18zM32 251h18v1h-18zM32 252h19v1h-19zM32 253h13v1h-13zM46 253h6v1h-6zM47 254h6v1h-6zM33 254h11v2h-11zM48 255h6v2h-6zM32 256h12v2h-12zM49 257h6v1h-6zM50 258h6v1h-6zM32 258h11v1h-11zM32 259h12v1h-12zM51 259h5v1h-5zM52 260h5v1h-5zM53 261h4v1h-4zM53 262h5v1h-5zM54 263h5v1h-5zM31 260h13v5h-13zM55 264h4v1h-4zM56 265h4v2h-4zM31 265h14v2h-14zM32 267h13v1h-13zM57 267h4v2h-4zM32 268h14v1h-14zM33 269h14v1h-14zM57 269h5v1h-5zM58 270h4v1h-4zM33 270h16v1h-16zM58 271h5v1h-5zM34 271h16v1h-16zM34 272h17v1h-17zM58 272h6v2h-6zM34 273h18v1h-18zM35 274h9v1h-9zM46 274h8v1h-8zM58 274h7v1h-7zM35 275h8v1h-8zM47 275h18v1h-18zM48 276h18v1h-18zM50 277h16v1h-16zM51 278h16v1h-16zM52 279h15v1h-15zM34 276h9v5h-9zM53 280h15v1h-15zM55 281h13v1h-13zM58 282h11v1h-11zM60 283h9v1h-9zM63 284h6v1h-6zM33 281h10v5h-10zM66 285h3v1h-3zM34 286h9v2h-9zM0 287h3v1h-3zM0 288h4v1h-4zM35 288h9v2h-9zM0 289h5v1h-5zM36 290h8v1h-8zM36 291h9v1h-9zM37 292h8v2h-8zM37 294h9v1h-9zM38 295h8v1h-8zM0 290h6v7h-6zM37 296h10v1h-10zM0 297h5v1h-5zM37 297h11v2h-11zM0 298h4v1h-4zM0 299h3v1h-3zM37 299h12v2h-12zM0 300h2v1h-2zM37 301h13v2h-13zM37 303h14v2h-14zM0 304h2v1h-2zM0 305h5v1h-5zM37 305h15v2h-15zM0 306h10v1h-10zM0 307h7v1h-7zM37 307h16v1h-16zM37 308h17v1h-17zM0 308h6v1h-6zM190 305h3v5h-3zM0 309h4v1h-4zM37 309h18v1h-18zM0 310h3v1h-3zM37 310h19v1h-19zM0 311h2v1h-2zM37 311h20v1h-20zM37 312h21v1h-21zM191 310h2v4h-2zM0 312h1v2h-1zM37 313h22v1h-22zM44 314h16v1h-16zM45 315h16v1h-16zM192 314h1v3h-1zM46 316h16v1h-16zM47 317h15v1h-15zM48 318h15v1h-15zM37 314h5v6h-5zM50 319h13v1h-13zM51 320h13v1h-13zM52 321h12v1h-12zM54 322h10v1h-10zM56 323h7v1h-7zM59 324h2v1h-2zM36 320h6v8h-6zM36 328h7v6h-7zM37 334h6v2h-6zM38 336h5v3h-5zM38 339h4v4h-4zM39 343h3v2h-3zM39 345h2v11h-2zM39 356h3v3h-3zM40 359h2v14h-2zM0 372h1v1h-1zM0 373h2v1h-2zM0 374h3v1h-3zM41 373h1v3h-1zM0 375h4v2h-4zM0 377h5v1h-5zM41 376h2v10h-2zM0 378h4v8h-4z"/>
<path fill="#55ff00" d="M50 0h15v18h-15zM49 18h16v75h-16zM50 93h15v2h-15zM50 95h16v9h-16zM50 104h15v20h-15zM50 124h14v8h-14zM50 132h13v2h-13zM50 134h12v4h-12zM50 138h11v4h-11zM50 142h10v4h-10zM50 146h9v8h-9zM50 154h10v3h-10zM50 157h11v4h-11zM50 161h12v4h-12zM51 165h11v1h-11zM51 166h12v6h-12zM52 172h11v4h-11zM53 176h10v2h-10zM54 178h10v1h-10zM56 179h8v1h-8zM57 180h7v1h-7zM58 181h6v1h-6zM59 182h6v1h-6zM60 183h5v1h-5zM45 184h2v1h-2zM60 184h6v1h-6zM44 185h5v1h-5zM61 185h5v2h-5zM44 186h7v1h-7zM61 187h6v1h-6zM44 187h9v1h-9zM43 188h11v1h-11zM62 188h5v1h-5zM43 189h13v1h-13zM61 189h6v2h-6zM43 190h14v1h-14zM43 191h15v1h-15zM59 191h8v1h-8zM43 192h24v2h-24zM44 194h23v1h-23zM44 195h22v1h-22zM44 196h21v1h-21zM45 197h19v1h-19zM45 198h17v1h-17zM46 199h14v1h-14zM46 200h13v1h-13zM47 201h12v1h-12zM48 202h11v1h-11zM49 203h10v1h-10zM50 204h9v1h-9zM51 205h8v1h-8zM52 206h7v2h-7zM53 208h6v1h-6zM54 209h6v1h-6zM55 210h5v1h-5zM56 211h4v1h-4zM57 212h4v1h-4zM58 213h3v1h-3zM59 214h3v2h-3zM59 216h4v1h-4zM60 217h3v1h-3zM60 218h4v1h-4zM61 219h3v2h-3zM62 221h3v2h-3zM63 223h3v2h-3zM64 225h3v2h-3zM64 227h4v1h-4zM45 228h1v1h-1zM65 228h3v2h-3zM44 229h3v1h-3zM44 230h4v1h-4zM65 230h4v1h-4zM66 231h3v1h-3zM43 231h6v1h-6zM157 232h4v1h-4zM43 232h8v1h-8zM43 233h9v1h-9zM66 232h4v3h-4zM156 233h6v2h-6zM43 234h10v1h-10zM43 235h11v1h-11zM156 235h7v1h-7zM66 235h5v2h-5zM157 236h7v1h-7zM43 236h13v1h-13zM43 237h14v1h-14zM65 237h7v1h-7zM157 237h8v1h-8zM158 238h8v1h-8zM43 238h29v1h-29zM159 239h8v1h-8zM160 240h8v1h-8zM161 241h8v1h-8zM44 239h28v4h-28zM162 242h8v1h-8zM162 243h9v1h-9zM44 243h27v1h-27zM45 244h24v1h-24zM163 244h9v1h-9zM45 245h14v1h-14zM164 245h8v1h-8zM165 246h8v1h-8zM46 246h10v1h-10zM47 247h9v1h-9zM166 247h8v1h-8zM48 248h8v1h-8zM167 248h8v1h-8zM49 249h7v1h-7zM167 249h9v1h-9zM168 250h9v1h-9zM49 250h8v1h-8zM50 251h7v1h-7zM169 251h9v1h-9zM51 252h6v1h-6zM170 252h9v1h-9zM52 253h6v1h-6zM171 253h8v1h-8zM171 254h9v1h-9zM53 254h5v1h-5zM172 255h9v1h-9zM54 255h4v1h-4zM54 256h5v1h-5zM173 256h9v1h-9zM55 257h4v1h-4zM174 257h9v1h-9zM175 258h9v1h-9zM56 258h4v2h-4zM176 259h9v1h-9zM177 260h9v2h-9zM57 260h4v2h-4zM58 262h4v1h-4zM178 262h9v1h-9zM59 263h3v1h-3zM179 263h9v1h-9zM180 264h8v1h-8zM59 264h4v1h-4zM181 265h7v1h-7zM60 265h3v1h-3zM60 266h4v1h-4zM182 266h5v1h-5zM61 267h3v1h-3zM183 267h3v1h-3zM171 268h3v1h-3zM61 268h4v1h-4zM62 269h4v2h-4zM170 269h5v2h-5zM170 271h6v1h-6zM63 271h4v1h-4zM64 272h4v2h-4zM171 272h6v2h-6zM44 274h2v1h-2zM65 274h4v1h-4zM172 274h6v2h-6zM65 275h5v1h-5zM43 275h4v1h-4zM43 276h5v1h-5zM66 276h4v1h-4zM173 276h6v2h-6zM43 277h7v1h-7zM66 277h5v1h-5zM43 278h8v1h-8zM174 278h6v2h-6zM67 278h5v2h-5zM43 279h9v1h-9zM175 280h6v1h-6zM43 280h10v1h-10zM68 280h5v1h-5zM175 281h7v1h-7zM68 281h6v1h-6zM43 281h12v1h-12zM176 282h6v1h-6zM69 282h5v1h-5zM43 282h15v1h-15zM176 283h7v1h-7zM69 283h6v1h-6zM43 283h17v1h-17zM177 284h6v1h-6zM69 284h7v1h-7zM49 284h14v1h-14zM43 284h3v2h-3zM51 285h15v1h-15zM177 285h7v1h-7zM69 285h8v1h-8zM178 286h6v1h-6zM52 286h25v1h-25zM43 286h4v2h-4zM56 287h22v1h-22zM178 287h7v1h-7zM44 288h4v1h-4zM59 288h20v1h-20zM179 288h6v1h-6zM62 289h17v1h-17zM179 289h7v1h-7zM44 289h5v2h-5zM180 290h6v1h-6zM64 290h15v1h-15zM66 291h14v1h-14zM181 291h6v1h-6zM45 291h5v2h-5zM181 292h7v1h-7zM67 292h13v1h-13zM69 293h11v1h-11zM45 293h6v1h-6zM181 293h8v1h-8zM46 294h5v1h-5zM181 294h9v1h-9zM70 294h10v1h-10zM71 295h9v1h-9zM46 295h6v1h-6zM181 295h12v1h-12zM47 296h5v1h-5zM73 296h7v1h-7zM179 296h14v1h-14zM48 297h4v1h-4zM74 297h6v1h-6zM178 297h15v2h-15zM76 298h4v1h-4zM48 298h5v1h-5zM49 299h4v1h-4zM77 299h3v1h-3zM49 300h5v1h-5zM50 301h4v1h-4zM177 299h16v4h-16zM50 302h5v1h-5zM51 303h4v1h-4zM176 303h17v2h-17zM51 304h5v1h-5zM52 305h5v2h-5zM53 307h5v1h-5zM54 308h5v1h-5zM176 305h14v5h-14zM55 309h5v1h-5zM56 310h5v1h-5zM57 311h5v1h-5zM58 312h5v1h-5zM177 310h14v4h-14zM59 313h5v1h-5zM60 314h5v1h-5zM42 314h2v1h-2zM177 314h15v2h-15zM42 315h3v1h-3zM61 315h4v1h-4zM62 316h4v1h-4zM178 316h14v1h-14zM42 316h4v1h-4zM42 317h5v1h-5zM62 317h5v1h-5zM42 318h6v1h-6zM63 318h5v1h-5zM178 317h15v3h-15zM42 319h8v1h-8zM63 319h6v1h-6zM179 320h14v1h-14zM42 320h9v1h-9zM64 320h5v1h-5zM42 321h10v1h-10zM64 321h6v1h-6zM180 321h13v1h-13zM64 322h7v1h-7zM42 322h12v1h-12zM63 323h8v1h-8zM42 323h14v1h-14zM42 324h17v1h-17zM61 324h10v1h-10zM181 322h12v4h-12zM42 325h30v2h-30zM42 327h29v1h-29zM43 328h28v1h-28zM182 326h11v4h-11zM43 329h26v1h-26zM43 330h25v1h-25zM43 331h24v1h-24zM43 332h22v1h-22zM43 333h21v1h-21zM43 334h20v1h-20zM43 335h19v1h-19zM43 336h18v1h-18zM43 337h14v1h-14zM43 338h13v1h-13zM42 339h12v1h-12zM183 330h10v11h-10zM42 340h11v1h-11zM42 341h10v2h-10zM42 343h9v2h-9zM184 341h9v6h-9zM41 345h9v3h-9zM185 347h8v3h-8zM186 350h7v1h-7zM187 351h6v1h-6zM41 348h8v7h-8zM41 355h7v1h-7zM186 352h7v19h-7zM42 356h6v15h-6zM42 371h5v5h-5zM185 371h8v15h-8zM43 376h4v10h-4z"/>
<path fill="#aaff00" d="M128 0h27v1h-27zM128 1h28v10h-28zM129 11h27v10h-27zM129 21h28v7h-28zM130 28h27v7h-27zM130 35h28v11h-28zM130 46h29v8h-29zM65 0h4v60h-4zM130 54h30v6h-30zM131 60h29v1h-29zM131 61h30v3h-30zM132 64h29v4h-29zM133 68h28v5h-28zM133 73h29v1h-29zM134 74h28v7h-28zM135 81h27v1h-27zM135 82h28v6h-28zM135 88h29v3h-29zM136 91h28v1h-28zM65 60h5v35h-5zM136 92h29v4h-29zM136 96h30v3h-30zM66 95h4v5h-4zM66 100h5v4h-5zM136 99h31v8h-31zM137 107h30v2h-30zM65 104h6v16h-6zM65 120h7v4h-7zM137 109h29v18h-29zM137 127h28v1h-28zM137 128h29v1h-29zM138 129h28v2h-28zM64 124h8v8h-8zM139 131h28v3h-28zM63 132h9v2h-9zM62 134h10v3h-10zM140 134h28v3h-28zM62 137h9v1h-9zM141 137h28v2h-28zM141 139h29v2h-29zM61 138h10v4h-10zM141 141h30v1h-30zM142 142h30v2h-30zM60 142h11v2h-11zM142 144h31v1h-31zM60 144h10v2h-10zM142 145h32v1h-32zM142 146h33v1h-33zM142 147h34v1h-34zM59 146h11v3h-11zM143 148h34v1h-34zM143 149h35v1h-35zM143 150h36v3h-36zM59 149h10v5h-10zM60 154h9v3h-9zM143 153h37v6h-37zM61 157h8v4h-8zM143 159h38v3h-38zM143 162h39v3h-39zM62 161h7v5h-7zM143 165h40v2h-40zM144 167h39v1h-39zM144 168h40v1h-40zM145 169h39v2h-39zM146 171h39v2h-39zM63 166h6v8h-6zM141 173h44v1h-44zM140 174h46v3h-46zM63 174h5v4h-5zM141 177h46v2h-46zM142 179h46v1h-46zM64 178h4v4h-4zM143 180h46v2h-46zM144 182h46v1h-46zM65 182h4v2h-4zM145 183h46v1h-46zM146 184h46v1h-46zM66 184h3v1h-3zM66 185h4v2h-4zM147 185h46v3h-46zM67 187h4v1h-4zM148 188h45v2h-45zM67 188h5v2h-5zM67 190h6v1h-6zM67 191h7v3h-7zM67 194h8v1h-8zM66 195h9v1h-9zM139 196h2v1h-2zM65 196h10v1h-10zM149 190h44v8h-44zM139 197h3v1h-3zM64 197h11v1h-11zM139 198h4v1h-4zM62 198h12v1h-12zM60 199h13v1h-13zM140 199h4v1h-4zM141 200h4v1h-4zM59 200h9v2h-9zM141 201h5v1h-5zM150 198h43v5h-43zM142 202h5v1h-5zM59 202h8v1h-8zM59 203h7v1h-7zM143 203h4v1h-4zM144 204h4v1h-4zM59 204h6v2h-6zM146 205h1v1h-1zM151 203h42v5h-42zM59 206h5v3h-5zM60 209h4v3h-4zM61 212h4v2h-4zM152 208h41v8h-41zM62 214h3v2h-3zM63 216h3v2h-3zM64 218h2v1h-2zM64 219h3v2h-3zM65 221h3v2h-3zM66 223h3v2h-3zM67 225h2v1h-2zM67 226h3v1h-3zM68 227h2v1h-2zM68 228h3v1h-3zM68 229h4v1h-4zM69 230h3v1h-3zM153 216h40v16h-40zM69 231h4v1h-4zM161 232h32v1h-32zM153 232h4v1h-4zM70 232h4v2h-4zM162 233h31v2h-31zM70 234h5v1h-5zM153 233h3v3h-3zM163 235h30v1h-30zM71 235h4v1h-4zM164 236h29v1h-29zM71 236h5v1h-5zM153 236h4v2h-4zM165 237h28v1h-28zM72 237h4v1h-4zM154 238h4v1h-4zM166 238h27v1h-27zM72 238h5v2h-5zM167 239h26v1h-26zM155 239h4v1h-4zM156 240h4v1h-4zM72 240h6v1h-6zM168 240h25v1h-25zM156 241h5v1h-5zM169 241h24v1h-24zM72 241h7v2h-7zM170 242h23v1h-23zM157 242h5v2h-5zM71 243h8v1h-8zM171 243h22v1h-22zM158 244h5v1h-5zM69 244h10v1h-10zM172 244h21v2h-21zM59 245h21v1h-21zM158 245h6v1h-6zM158 246h7v1h-7zM173 246h20v1h-20zM174 247h19v1h-19zM158 247h8v1h-8zM175 248h18v1h-18zM56 246h24v4h-24zM158 248h9v2h-9zM176 249h17v1h-17zM177 250h16v1h-16zM158 250h10v1h-10zM57 250h23v2h-23zM159 251h10v1h-10zM178 251h15v1h-15zM73 252h6v1h-6zM57 252h9v1h-9zM159 252h11v1h-11zM179 252h14v2h-14zM159 253h12v2h-12zM180 254h13v1h-13zM58 253h6v3h-6zM181 255h12v1h-12zM159 255h13v1h-13zM159 256h14v1h-14zM182 256h11v1h-11zM59 256h5v2h-5zM183 257h10v1h-10zM159 257h15v1h-15zM184 258h9v1h-9zM159 258h16v1h-16zM60 258h4v2h-4zM159 259h17v1h-17zM185 259h8v1h-8zM186 260h7v2h-7zM159 260h18v2h-18zM61 260h4v2h-4zM159 262h19v1h-19zM187 262h6v1h-6zM62 262h4v2h-4zM160 263h19v1h-19zM160 264h20v1h-20zM188 263h5v3h-5zM63 264h4v2h-4zM160 265h21v1h-21zM187 266h6v1h-6zM161 266h21v1h-21zM64 266h4v2h-4zM161 267h22v1h-22zM186 267h7v1h-7zM174 268h19v1h-19zM65 268h4v1h-4zM161 268h10v1h-10zM66 269h3v1h-3zM161 269h9v1h-9zM175 269h18v2h-18zM66 270h4v1h-4zM162 270h8v2h-8zM67 271h4v1h-4zM176 271h17v1h-17zM68 272h3v1h-3zM162 272h9v2h-9zM177 272h16v2h-16zM68 273h4v1h-4zM69 274h4v1h-4zM162 274h10v1h-10zM178 274h15v2h-15zM70 275h3v1h-3zM163 275h9v1h-9zM70 276h4v1h-4zM179 276h14v2h-14zM163 276h10v2h-10zM71 277h4v1h-4zM72 278h3v1h-3zM180 278h13v2h-13zM163 278h11v2h-11zM72 279h4v1h-4zM73 280h4v1h-4zM181 280h12v1h-12zM164 280h11v2h-11zM74 281h4v2h-4zM182 281h11v2h-11zM164 282h12v2h-12zM75 283h4v1h-4zM183 283h10v2h-10zM164 284h13v1h-13zM76 284h4v1h-4zM46 284h3v1h-3zM77 285h3v1h-3zM165 285h12v1h-12zM46 285h5v1h-5zM184 285h9v2h-9zM47 286h5v1h-5zM77 286h4v1h-4zM165 286h13v2h-13zM47 287h9v1h-9zM78 287h3v1h-3zM185 287h8v2h-8zM48 288h11v1h-11zM79 288h2v1h-2zM165 288h14v2h-14zM49 289h13v1h-13zM186 289h7v2h-7zM79 289h3v2h-3zM165 290h15v1h-15zM49 290h15v1h-15zM187 291h6v1h-6zM50 291h16v1h-16zM166 291h15v2h-15zM50 292h17v1h-17zM188 292h5v1h-5zM189 293h4v1h-4zM51 293h18v1h-18zM167 293h14v2h-14zM51 294h19v1h-19zM190 294h3v1h-3zM168 295h13v1h-13zM52 295h19v1h-19zM80 291h2v6h-2zM52 296h7v1h-7zM168 296h11v1h-11zM64 296h9v1h-9zM52 297h6v1h-6zM66 297h8v1h-8zM169 297h9v2h-9zM53 298h5v1h-5zM67 298h9v1h-9zM80 297h3v3h-3zM69 299h8v1h-8zM53 299h6v1h-6zM70 300h13v1h-13zM169 299h8v3h-8zM54 300h5v2h-5zM71 301h12v1h-12zM72 302h11v1h-11zM170 302h7v1h-7zM55 302h5v2h-5zM74 303h9v1h-9zM56 304h5v1h-5zM75 304h8v1h-8zM57 305h5v1h-5zM77 305h6v1h-6zM79 306h4v1h-4zM57 306h6v1h-6zM58 307h5v1h-5zM80 307h2v1h-2zM59 308h5v1h-5zM170 303h6v7h-6zM60 309h5v1h-5zM61 310h5v1h-5zM62 311h5v1h-5zM63 312h5v1h-5zM64 313h5v1h-5zM65 314h4v1h-4zM171 310h6v6h-6zM65 315h5v1h-5zM66 316h5v1h-5zM171 316h7v2h-7zM67 317h5v1h-5zM68 318h5v1h-5zM172 318h6v2h-6zM69 319h4v1h-4zM172 320h7v1h-7zM69 320h5v1h-5zM70 321h5v1h-5zM172 321h8v1h-8zM172 322h9v1h-9zM71 322h5v2h-5zM71 324h6v1h-6zM173 323h8v3h-8zM72 325h6v1h-6zM173 326h9v1h-9zM72 326h7v1h-7zM71 327h8v1h-8zM71 328h9v1h-9zM174 327h8v3h-8zM69 329h11v1h-11zM68 330h12v1h-12zM67 331h13v1h-13zM65 332h15v1h-15zM175 330h8v4h-8zM64 333h16v1h-16zM63 334h17v1h-17zM62 335h18v1h-18zM61 336h19v1h-19zM174 334h9v4h-9zM57 337h23v1h-23zM56 338h24v1h-24zM54 339h26v1h-26zM173 338h10v3h-10zM53 340h27v1h-27zM173 341h11v1h-11zM52 341h28v2h-28zM51 343h29v1h-29zM51 344h30v1h-30zM172 342h12v4h-12zM171 346h13v1h-13zM50 345h31v3h-31zM49 348h32v1h-32zM171 347h14v3h-14zM59 349h22v1h-22zM49 349h9v1h-9zM61 350h20v1h-20zM49 350h8v1h-8zM170 350h16v1h-16zM170 351h17v1h-17zM170 352h16v1h-16zM62 351h19v3h-19zM49 351h7v4h-7zM63 354h19v2h-19zM171 353h15v4h-15zM64 356h18v1h-18zM48 355h8v3h-8zM65 357h17v2h-17zM172 357h14v3h-14zM66 359h16v2h-16zM69 361h13v1h-13zM173 360h13v3h-13zM72 362h11v1h-11zM73 363h10v1h-10zM74 364h9v1h-9zM174 363h12v3h-12zM75 365h8v2h-8zM175 366h11v2h-11zM75 367h9v1h-9zM48 358h7v11h-7zM176 368h10v2h-10zM76 368h8v3h-8zM48 369h6v2h-6zM177 370h9v1h-9zM177 371h8v1h-8zM76 371h9v3h-9zM178 372h7v2h-7zM77 374h8v1h-8zM179 374h6v1h-6zM47 371h7v5h-7zM180 375h5v1h-5zM77 375h9v11h-9zM181 376h4v10h-4zM47 376h6v10h-6z"/>
<path fill="#ffff00" d="M155 0h13v1h-13zM156 1h12v6h-12zM120 0h8v11h-8zM69 0h5v21h-5zM156 7h13v14h-13zM120 11h9v17h-9zM69 21h6v13h-6zM157 21h13v13h-13zM157 34h14v1h-14zM158 35h13v11h-13zM159 46h12v2h-12zM159 48h13v6h-13zM120 28h10v32h-10zM69 34h7v26h-7zM160 54h12v7h-12zM70 60h6v1h-6zM121 60h10v4h-10zM161 61h12v7h-12zM121 64h11v4h-11zM161 68h13v5h-13zM121 68h12v6h-12zM162 73h12v1h-12zM121 74h13v6h-13zM162 74h13v6h-13zM122 80h12v1h-12zM70 61h7v21h-7zM162 80h14v2h-14zM163 82h13v4h-13zM163 86h14v2h-14zM122 81h13v9h-13zM123 90h12v1h-12zM164 88h13v4h-13zM123 91h13v5h-13zM165 92h13v4h-13zM166 96h12v1h-12zM166 97h13v2h-13zM70 82h8v18h-8zM124 96h12v4h-12zM71 100h7v1h-7zM125 100h11v1h-11zM167 99h12v8h-12zM71 101h8v6h-8zM124 101h12v6h-12zM167 107h13v2h-13zM71 107h9v9h-9zM166 109h14v11h-14zM71 116h10v4h-10zM72 120h9v1h-9zM72 121h10v4h-10zM166 120h15v7h-15zM165 127h16v1h-16zM124 107h13v22h-13zM72 125h11v4h-11zM166 128h16v1h-16zM166 129h17v2h-17zM124 129h14v2h-14zM167 131h16v1h-16zM124 131h15v3h-15zM167 132h17v2h-17zM72 129h12v8h-12zM124 134h16v3h-16zM168 134h17v3h-17zM169 137h17v2h-17zM170 139h16v2h-16zM124 137h17v5h-17zM71 137h13v5h-13zM171 141h16v1h-16zM172 142h15v2h-15zM71 142h14v2h-14zM173 144h14v1h-14zM174 145h13v1h-13zM175 146h13v1h-13zM124 142h18v6h-18zM70 144h15v4h-15zM176 147h12v1h-12zM177 148h11v1h-11zM70 148h16v1h-16zM124 148h19v2h-19zM178 149h10v1h-10zM179 150h9v1h-9zM179 151h10v1h-10zM179 152h11v1h-11zM180 153h10v1h-10zM180 154h11v1h-11zM180 155h12v1h-12zM180 156h13v3h-13zM181 159h12v3h-12zM182 162h11v3h-11zM125 150h18v17h-18zM183 165h10v3h-10zM126 167h18v2h-18zM127 169h18v1h-18zM69 149h17v22h-17zM184 168h9v3h-9zM128 170h17v1h-17zM69 171h16v1h-16zM129 171h17v1h-17zM130 172h16v1h-16zM69 172h15v1h-15zM185 171h8v3h-8zM130 173h11v1h-11zM69 173h14v1h-14zM68 174h14v1h-14zM131 174h9v1h-9zM132 175h8v1h-8zM186 174h7v3h-7zM133 176h7v1h-7zM68 175h13v3h-13zM134 177h7v1h-7zM187 177h6v2h-6zM68 178h12v1h-12zM135 178h6v1h-6zM136 179h6v1h-6zM188 179h5v1h-5zM68 179h11v1h-11zM68 180h10v1h-10zM137 180h6v1h-6zM189 180h4v2h-4zM138 181h5v1h-5zM68 181h9v1h-9zM125 181h2v1h-2zM139 182h5v1h-5zM124 182h6v1h-6zM190 182h3v1h-3zM125 183h7v1h-7zM140 183h5v1h-5zM191 183h2v1h-2zM69 182h7v3h-7zM125 184h8v1h-8zM140 184h6v1h-6zM192 184h1v1h-1zM126 185h9v1h-9zM141 185h6v1h-6zM70 185h6v1h-6zM70 186h7v1h-7zM126 186h10v1h-10zM142 186h5v2h-5zM127 187h11v1h-11zM71 187h6v1h-6zM142 188h6v1h-6zM127 188h13v1h-13zM72 188h6v2h-6zM128 189h20v1h-20zM73 190h6v1h-6zM129 190h20v2h-20zM74 191h6v2h-6zM130 192h19v2h-19zM74 193h7v1h-7zM131 194h18v1h-18zM132 195h17v1h-17zM132 196h7v1h-7zM141 196h8v1h-8zM75 194h6v4h-6zM142 197h7v1h-7zM133 197h6v1h-6zM143 198h7v1h-7zM134 198h5v1h-5zM74 198h7v1h-7zM73 199h8v1h-8zM144 199h6v1h-6zM135 199h5v1h-5zM68 200h13v1h-13zM145 200h5v1h-5zM136 200h5v2h-5zM146 201h4v1h-4zM68 201h14v1h-14zM137 202h5v1h-5zM67 202h15v1h-15zM147 202h3v1h-3zM66 203h16v1h-16zM138 203h5v1h-5zM147 203h4v1h-4zM148 204h3v1h-3zM139 204h5v1h-5zM65 204h17v2h-17zM140 205h6v1h-6zM147 205h4v1h-4zM140 206h11v1h-11zM64 206h18v2h-18zM141 207h10v1h-10zM74 208h8v1h-8zM64 208h5v2h-5zM142 208h10v2h-10zM128 209h2v1h-2zM76 209h6v1h-6zM78 210h4v1h-4zM128 210h4v1h-4zM143 210h9v2h-9zM64 210h4v2h-4zM128 211h5v1h-5zM79 211h3v1h-3zM128 212h7v1h-7zM129 213h7v1h-7zM65 212h3v3h-3zM129 214h9v1h-9zM144 212h8v4h-8zM130 215h9v1h-9zM65 215h4v1h-4zM131 216h10v1h-10zM144 216h9v1h-9zM66 216h3v3h-3zM132 217h21v2h-21zM133 219h20v1h-20zM67 219h3v2h-3zM134 220h19v1h-19zM135 221h18v1h-18zM68 221h3v2h-3zM136 222h17v2h-17zM69 223h3v2h-3zM137 224h16v1h-16zM138 225h15v1h-15zM69 225h4v1h-4zM139 226h14v1h-14zM70 226h4v2h-4zM140 227h13v2h-13zM71 228h4v1h-4zM141 229h12v1h-12zM72 229h3v1h-3zM72 230h4v1h-4zM142 230h11v2h-11zM73 231h4v1h-4zM143 232h10v1h-10zM74 232h3v1h-3zM74 233h4v1h-4zM144 233h9v2h-9zM75 234h4v2h-4zM76 236h4v1h-4zM145 235h8v3h-8zM76 237h5v1h-5zM77 238h4v1h-4zM146 238h8v1h-8zM77 239h5v1h-5zM146 239h9v1h-9zM133 239h1v1h-1zM133 240h3v1h-3zM78 240h4v1h-4zM146 240h10v2h-10zM133 241h5v1h-5zM86 242h1v1h-1zM134 242h5v1h-5zM146 242h11v2h-11zM87 243h1v1h-1zM135 243h6v1h-6zM79 241h3v4h-3zM146 244h12v1h-12zM87 244h2v1h-2zM135 244h7v1h-7zM136 245h22v1h-22zM137 246h21v2h-21zM138 248h20v1h-20zM139 249h19v1h-19zM140 250h18v1h-18zM80 245h2v7h-2zM140 251h19v1h-19zM66 252h7v1h-7zM79 252h3v1h-3zM141 252h18v1h-18zM142 253h17v1h-17zM143 254h16v1h-16zM144 255h15v1h-15zM64 253h18v5h-18zM145 256h14v2h-14zM146 258h13v1h-13zM64 258h19v2h-19zM147 259h12v1h-12zM65 260h10v1h-10zM79 260h4v1h-4zM65 261h8v1h-8zM80 261h3v1h-3zM148 260h11v3h-11zM81 262h2v1h-2zM66 262h6v2h-6zM82 263h2v1h-2zM149 263h11v3h-11zM67 264h5v2h-5zM83 264h3v2h-3zM84 266h3v1h-3zM135 266h1v1h-1zM68 266h5v2h-5zM135 267h3v1h-3zM84 267h4v1h-4zM136 268h4v1h-4zM85 268h3v1h-3zM69 268h4v1h-4zM149 266h12v4h-12zM69 269h5v1h-5zM136 269h5v1h-5zM88 269h1v1h-1zM137 270h5v1h-5zM70 270h4v1h-4zM149 270h13v2h-13zM138 271h6v1h-6zM71 271h4v2h-4zM138 272h7v1h-7zM148 272h14v2h-14zM72 273h4v1h-4zM139 273h7v1h-7zM73 274h3v1h-3zM140 274h22v1h-22zM73 275h4v1h-4zM140 275h23v1h-23zM74 276h4v1h-4zM141 276h22v1h-22zM142 277h21v1h-21zM75 277h3v1h-3zM143 278h20v1h-20zM75 278h4v1h-4zM144 279h19v1h-19zM76 279h4v1h-4zM77 280h4v1h-4zM145 280h19v2h-19zM78 281h5v2h-5zM146 282h18v1h-18zM79 283h5v1h-5zM147 283h17v2h-17zM80 284h4v1h-4zM80 285h5v1h-5zM147 285h18v1h-18zM81 286h4v2h-4zM81 288h5v1h-5zM148 286h17v5h-17zM148 291h18v2h-18zM148 293h19v2h-19zM82 289h4v8h-4zM149 295h19v2h-19zM59 296h5v1h-5zM58 297h8v1h-8zM83 297h3v1h-3zM150 297h19v2h-19zM58 298h9v1h-9zM83 298h4v2h-4zM151 299h18v1h-18zM59 299h10v1h-10zM152 300h17v1h-17zM59 300h11v1h-11zM83 300h5v2h-5zM59 301h12v1h-12zM153 301h16v1h-16zM60 302h12v1h-12zM154 302h16v1h-16zM83 302h6v2h-6zM60 303h14v1h-14zM155 303h15v1h-15zM157 304h13v1h-13zM61 304h14v1h-14zM83 304h7v2h-7zM158 305h12v1h-12zM62 305h15v1h-15zM83 306h8v1h-8zM63 306h16v1h-16zM160 306h10v2h-10zM82 307h9v1h-9zM63 307h17v1h-17zM64 308h27v1h-27zM159 308h11v2h-11zM65 309h26v1h-26zM66 310h25v1h-25zM159 310h12v2h-12zM67 311h24v1h-24zM68 312h23v1h-23zM69 313h8v1h-8zM79 313h12v1h-12zM69 314h7v1h-7zM70 315h6v1h-6zM158 312h13v5h-13zM71 316h6v1h-6zM72 317h5v1h-5zM157 317h14v1h-14zM80 314h12v5h-12zM73 318h5v1h-5zM73 319h19v1h-19zM74 320h18v1h-18zM75 321h18v1h-18zM157 318h15v5h-15zM76 322h17v2h-17zM77 324h16v1h-16zM78 325h15v1h-15zM157 323h16v4h-16zM79 326h14v2h-14zM80 328h13v1h-13zM157 327h17v3h-17zM80 329h14v2h-14zM80 331h15v1h-15zM157 330h18v3h-18zM80 332h14v2h-14zM158 333h17v1h-17zM158 334h16v2h-16zM80 334h13v3h-13zM159 336h15v2h-15zM80 337h12v2h-12zM160 338h13v2h-13zM80 339h11v3h-11zM161 340h12v2h-12zM148 341h2v1h-2zM148 342h3v1h-3zM161 342h11v1h-11zM80 342h10v2h-10zM147 343h4v1h-4zM81 344h9v1h-9zM162 343h10v3h-10zM147 344h5v2h-5zM81 345h8v3h-8zM146 346h7v3h-7zM163 346h8v3h-8zM58 349h1v1h-1zM164 349h7v1h-7zM81 348h7v3h-7zM57 350h4v1h-4zM81 351h6v1h-6zM145 349h9v4h-9zM164 350h6v3h-6zM56 351h6v3h-6zM81 352h7v2h-7zM145 353h10v1h-10zM164 353h7v2h-7zM56 354h7v2h-7zM146 354h9v3h-9zM82 354h7v3h-7zM165 355h6v2h-6zM56 356h8v1h-8zM146 357h10v1h-10zM56 357h9v1h-9zM55 358h10v1h-10zM82 357h8v3h-8zM165 357h7v3h-7zM147 358h9v2h-9zM55 359h11v2h-11zM82 360h9v2h-9zM55 361h14v1h-14zM166 360h7v3h-7zM147 360h10v3h-10zM83 362h8v1h-8zM55 362h17v1h-17zM166 363h8v1h-8zM55 363h18v1h-18zM148 363h10v2h-10zM55 364h19v1h-19zM167 364h7v1h-7zM166 365h8v1h-8zM83 363h9v4h-9zM148 365h11v2h-11zM166 366h9v1h-9zM55 365h20v3h-20zM149 367h11v1h-11zM165 367h10v1h-10zM55 368h21v1h-21zM149 368h27v2h-27zM84 367h9v4h-9zM149 370h28v1h-28zM150 371h27v1h-27zM54 369h22v5h-22zM150 372h28v2h-28zM85 371h9v4h-9zM150 374h29v1h-29zM54 374h23v2h-23zM151 375h29v1h-29zM86 375h8v11h-8zM53 376h24v10h-24zM151 376h30v10h-30z"/>
<path fill="#ffaa00" d="M168 0h13v1h-13zM168 1h14v6h-14zM74 0h46v21h-46zM169 7h13v14h-13zM170 21h12v2h-12zM75 21h45v13h-45zM170 23h13v11h-13zM171 34h12v14h-12zM76 34h44v16h-44zM90 50h30v4h-30zM76 50h12v5h-12zM91 54h29v6h-29zM76 55h11v5h-11zM172 48h11v13h-11zM76 60h10v1h-10zM92 60h29v7h-29zM173 61h11v6h-11zM173 67h12v1h-12zM93 67h28v6h-28zM174 68h11v6h-11zM175 74h10v4h-10zM94 73h27v6h-27zM175 78h11v2h-11zM95 79h26v1h-26zM77 61h9v21h-9zM95 80h27v4h-27zM78 82h8v2h-8zM176 80h10v6h-10zM96 84h26v4h-26zM97 88h25v2h-25zM177 86h9v6h-9zM97 90h26v2h-26zM78 84h7v11h-7zM98 92h25v4h-25zM178 92h8v5h-8zM78 95h6v5h-6zM99 96h25v4h-25zM179 97h7v4h-7zM100 100h25v1h-25zM78 100h5v1h-5zM79 101h5v1h-5zM100 101h24v2h-24zM179 101h8v2h-8zM79 102h6v2h-6zM179 103h9v2h-9zM101 103h23v3h-23zM79 104h7v2h-7zM179 105h10v2h-10zM79 106h8v1h-8zM180 107h9v1h-9zM102 106h22v3h-22zM80 107h7v2h-7zM180 108h10v2h-10zM103 109h21v2h-21zM180 110h11v2h-11zM80 109h8v4h-8zM104 111h20v3h-20zM180 112h12v2h-12zM80 113h9v3h-9zM105 114h19v2h-19zM106 116h18v3h-18zM180 114h13v6h-13zM81 116h8v5h-8zM107 119h17v2h-17zM108 121h16v3h-16zM82 121h8v4h-8zM109 124h15v2h-15zM181 120h12v8h-12zM83 125h7v3h-7zM182 128h11v1h-11zM83 128h8v1h-8zM110 126h14v4h-14zM84 129h7v1h-7zM183 129h10v3h-10zM84 130h8v3h-8zM184 132h9v2h-9zM185 134h8v3h-8zM111 130h13v8h-13zM84 133h9v5h-9zM186 137h7v4h-7zM84 138h10v4h-10zM112 138h12v6h-12zM187 141h6v5h-6zM85 142h9v4h-9zM113 144h11v4h-11zM85 146h10v2h-10zM114 148h10v2h-10zM188 146h5v5h-5zM189 151h4v1h-4zM190 152h3v2h-3zM191 154h2v1h-2zM192 155h1v1h-1zM114 150h11v17h-11zM114 167h12v2h-12zM114 169h13v1h-13zM86 148h9v23h-9zM113 170h15v1h-15zM112 171h17v1h-17zM85 171h10v1h-10zM84 172h12v1h-12zM112 172h18v2h-18zM83 173h13v1h-13zM113 174h18v1h-18zM82 174h15v1h-15zM113 175h19v1h-19zM81 175h17v1h-17zM114 176h19v1h-19zM81 176h18v2h-18zM115 177h19v1h-19zM80 178h20v1h-20zM115 178h20v1h-20zM79 179h22v1h-22zM116 179h20v1h-20zM117 180h20v1h-20zM78 180h24v1h-24zM118 181h7v1h-7zM90 181h13v1h-13zM77 181h10v1h-10zM127 181h11v1h-11zM130 182h9v1h-9zM93 182h11v1h-11zM118 182h6v1h-6zM132 183h8v1h-8zM94 183h11v1h-11zM119 183h6v1h-6zM76 182h11v3h-11zM96 184h10v1h-10zM133 184h7v1h-7zM120 184h5v1h-5zM97 185h10v1h-10zM121 185h5v1h-5zM76 185h12v1h-12zM135 185h6v1h-6zM77 186h11v1h-11zM122 186h4v1h-4zM98 186h10v1h-10zM136 186h6v1h-6zM138 187h4v1h-4zM77 187h12v1h-12zM99 187h10v1h-10zM123 187h4v2h-4zM100 188h10v1h-10zM140 188h2v1h-2zM78 188h11v1h-11zM124 189h4v1h-4zM101 189h10v1h-10zM78 189h12v1h-12zM103 190h9v1h-9zM79 190h12v1h-12zM125 190h4v1h-4zM80 191h12v1h-12zM104 191h9v1h-9zM126 191h3v1h-3zM80 192h13v1h-13zM126 192h4v1h-4zM105 192h8v1h-8zM106 193h8v1h-8zM127 193h3v1h-3zM81 193h12v1h-12zM81 194h13v1h-13zM107 194h8v1h-8zM127 194h4v1h-4zM128 195h4v1h-4zM108 195h9v1h-9zM81 195h14v1h-14zM81 196h15v1h-15zM129 196h3v1h-3zM109 196h9v1h-9zM129 197h4v1h-4zM111 197h8v1h-8zM81 197h16v1h-16zM81 198h17v1h-17zM112 198h8v1h-8zM129 198h5v1h-5zM130 199h5v1h-5zM113 199h9v1h-9zM81 199h18v2h-18zM114 200h9v1h-9zM130 200h6v2h-6zM82 201h18v1h-18zM115 201h11v1h-11zM82 202h19v1h-19zM116 202h21v1h-21zM116 203h22v1h-22zM88 203h14v1h-14zM89 204h14v1h-14zM117 204h22v1h-22zM91 205h13v1h-13zM118 205h22v1h-22zM82 203h3v4h-3zM119 206h21v1h-21zM92 206h13v1h-13zM93 207h13v1h-13zM120 207h21v1h-21zM82 207h4v2h-4zM69 208h5v1h-5zM120 208h22v1h-22zM94 208h13v1h-13zM130 209h12v1h-12zM121 209h7v1h-7zM69 209h7v1h-7zM95 209h13v1h-13zM82 209h5v2h-5zM122 210h6v1h-6zM68 210h10v1h-10zM96 210h13v1h-13zM132 210h11v1h-11zM123 211h5v1h-5zM68 211h11v1h-11zM98 211h12v1h-12zM133 211h10v1h-10zM82 211h6v1h-6zM124 212h4v1h-4zM135 212h9v1h-9zM99 212h11v1h-11zM68 212h21v1h-21zM68 213h22v1h-22zM124 213h5v1h-5zM100 213h11v1h-11zM136 213h8v1h-8zM138 214h6v1h-6zM125 214h4v1h-4zM101 214h11v1h-11zM68 214h23v1h-23zM126 215h4v1h-4zM69 215h22v1h-22zM102 215h11v1h-11zM139 215h5v1h-5zM141 216h3v1h-3zM126 216h5v1h-5zM103 216h11v1h-11zM69 216h23v1h-23zM104 217h12v1h-12zM127 217h5v1h-5zM69 217h24v1h-24zM128 218h4v1h-4zM69 218h25v1h-25zM105 218h12v1h-12zM106 219h12v1h-12zM128 219h5v1h-5zM70 219h25v1h-25zM79 220h17v1h-17zM107 220h12v1h-12zM129 220h5v1h-5zM70 220h7v1h-7zM80 221h17v1h-17zM108 221h12v1h-12zM130 221h5v1h-5zM71 221h6v2h-6zM109 222h12v1h-12zM80 222h18v1h-18zM131 222h5v2h-5zM110 223h12v1h-12zM81 223h17v1h-17zM72 223h6v2h-6zM111 224h13v1h-13zM132 224h5v1h-5zM81 224h18v1h-18zM73 225h5v1h-5zM112 225h13v1h-13zM81 225h19v1h-19zM133 225h5v1h-5zM134 226h5v1h-5zM113 226h14v1h-14zM74 226h5v1h-5zM81 226h20v1h-20zM114 227h14v1h-14zM74 227h11v1h-11zM87 227h15v1h-15zM135 227h5v2h-5zM89 228h14v1h-14zM115 228h14v1h-14zM75 228h10v2h-10zM136 229h5v1h-5zM116 229h15v1h-15zM90 229h14v1h-14zM91 230h14v1h-14zM117 230h15v1h-15zM76 230h9v1h-9zM137 230h5v2h-5zM77 231h8v1h-8zM92 231h14v1h-14zM118 231h15v1h-15zM77 232h9v1h-9zM138 232h5v1h-5zM93 232h14v1h-14zM119 232h15v1h-15zM120 233h24v1h-24zM94 233h14v1h-14zM78 233h8v1h-8zM121 234h23v1h-23zM79 234h8v1h-8zM96 234h13v1h-13zM79 235h9v1h-9zM122 235h23v1h-23zM97 235h13v1h-13zM98 236h13v1h-13zM123 236h22v1h-22zM80 236h9v1h-9zM81 237h8v1h-8zM99 237h13v1h-13zM124 237h21v1h-21zM100 238h13v1h-13zM124 238h22v1h-22zM81 238h9v1h-9zM134 239h12v1h-12zM82 239h9v1h-9zM125 239h8v1h-8zM101 239h13v1h-13zM102 240h13v1h-13zM82 240h10v1h-10zM126 240h7v1h-7zM136 240h10v1h-10zM103 241h13v1h-13zM82 241h11v1h-11zM138 241h8v1h-8zM127 241h6v1h-6zM139 242h7v1h-7zM128 242h6v1h-6zM105 242h12v1h-12zM87 242h7v1h-7zM82 242h4v1h-4zM129 243h6v1h-6zM141 243h5v1h-5zM106 243h12v1h-12zM88 243h6v1h-6zM82 243h5v2h-5zM130 244h5v1h-5zM89 244h6v1h-6zM142 244h4v1h-4zM107 244h12v1h-12zM130 245h6v1h-6zM82 245h14v1h-14zM108 245h12v1h-12zM109 246h12v1h-12zM131 246h6v1h-6zM82 246h15v1h-15zM110 247h12v1h-12zM82 247h16v1h-16zM132 247h5v1h-5zM111 248h12v1h-12zM133 248h5v1h-5zM82 248h17v1h-17zM134 249h5v1h-5zM111 249h14v1h-14zM82 249h18v2h-18zM112 250h14v1h-14zM135 250h5v2h-5zM82 251h19v1h-19zM113 251h14v1h-14zM114 252h14v1h-14zM136 252h5v1h-5zM82 252h4v1h-4zM87 252h15v1h-15zM137 253h5v1h-5zM89 253h14v1h-14zM115 253h14v1h-14zM82 253h3v2h-3zM138 254h5v1h-5zM90 254h14v1h-14zM116 254h14v1h-14zM91 255h14v1h-14zM117 255h14v1h-14zM138 255h6v1h-6zM139 256h6v1h-6zM118 256h15v1h-15zM93 256h13v1h-13zM82 255h4v3h-4zM94 257h13v1h-13zM140 257h5v1h-5zM119 257h15v1h-15zM83 258h4v1h-4zM120 258h15v1h-15zM141 258h5v1h-5zM95 258h13v1h-13zM141 259h6v1h-6zM121 259h16v1h-16zM97 259h12v1h-12zM83 259h5v2h-5zM75 260h4v1h-4zM98 260h12v1h-12zM122 260h16v1h-16zM142 260h6v2h-6zM99 261h12v1h-12zM83 261h6v1h-6zM73 261h7v1h-7zM123 261h16v1h-16zM124 262h24v1h-24zM100 262h12v1h-12zM83 262h7v1h-7zM72 262h9v1h-9zM72 263h10v1h-10zM125 263h24v1h-24zM102 263h11v1h-11zM84 263h7v1h-7zM86 264h5v1h-5zM126 264h23v1h-23zM103 264h11v1h-11zM72 264h11v2h-11zM86 265h6v1h-6zM127 265h22v1h-22zM104 265h11v1h-11zM136 266h13v1h-13zM128 266h7v1h-7zM105 266h11v1h-11zM87 266h6v1h-6zM73 266h11v2h-11zM138 267h11v1h-11zM129 267h6v1h-6zM88 267h6v1h-6zM106 267h11v1h-11zM73 268h12v1h-12zM140 268h9v1h-9zM88 268h7v1h-7zM129 268h7v1h-7zM107 268h11v1h-11zM130 269h6v1h-6zM74 269h14v1h-14zM89 269h6v1h-6zM108 269h11v1h-11zM141 269h8v1h-8zM142 270h7v1h-7zM131 270h6v1h-6zM74 270h22v1h-22zM109 270h11v1h-11zM132 271h6v1h-6zM144 271h5v1h-5zM75 271h22v1h-22zM110 271h11v1h-11zM111 272h11v1h-11zM145 272h3v1h-3zM75 272h23v1h-23zM133 272h5v1h-5zM146 273h2v1h-2zM134 273h5v1h-5zM112 273h12v1h-12zM76 273h22v1h-22zM113 274h12v1h-12zM76 274h23v1h-23zM135 274h5v2h-5zM114 275h12v1h-12zM77 275h23v1h-23zM78 276h23v1h-23zM136 276h5v1h-5zM115 276h12v1h-12zM89 277h12v1h-12zM137 277h5v1h-5zM116 277h12v1h-12zM78 277h8v1h-8zM138 278h5v1h-5zM79 278h7v1h-7zM90 278h12v1h-12zM117 278h12v1h-12zM92 279h11v1h-11zM80 279h6v1h-6zM138 279h6v1h-6zM118 279h13v1h-13zM93 280h11v1h-11zM139 280h6v1h-6zM119 280h13v1h-13zM81 280h5v1h-5zM95 281h10v1h-10zM120 281h13v1h-13zM140 281h5v1h-5zM83 281h3v1h-3zM83 282h4v1h-4zM121 282h13v1h-13zM96 282h9v1h-9zM140 282h6v1h-6zM141 283h6v1h-6zM98 283h8v1h-8zM84 283h3v1h-3zM121 283h15v1h-15zM84 284h4v1h-4zM99 284h7v1h-7zM140 284h7v1h-7zM122 284h16v1h-16zM85 285h4v1h-4zM123 285h24v1h-24zM101 285h6v1h-6zM124 286h24v1h-24zM102 286h5v1h-5zM85 286h5v2h-5zM125 287h23v2h-23zM86 288h5v1h-5zM86 289h6v1h-6zM126 289h22v2h-22zM86 290h7v2h-7zM86 292h8v1h-8zM127 291h21v3h-21zM126 294h22v1h-22zM123 295h26v1h-26zM122 296h27v1h-27zM86 293h9v5h-9zM122 297h28v2h-28zM87 298h8v2h-8zM122 299h29v1h-29zM122 300h30v1h-30zM88 300h7v2h-7zM122 301h31v1h-31zM122 302h32v1h-32zM89 302h6v2h-6zM122 303h33v1h-33zM122 304h35v1h-35zM90 304h5v2h-5zM122 305h36v1h-36zM122 306h38v2h-38zM91 306h4v5h-4zM122 308h37v4h-37zM91 311h5v3h-5zM77 313h2v1h-2zM92 314h4v1h-4zM76 314h4v2h-4zM122 312h36v5h-36zM77 316h3v2h-3zM92 315h5v4h-5zM78 318h2v1h-2zM92 319h6v2h-6zM93 321h6v3h-6zM93 324h7v2h-7zM93 326h8v2h-8zM93 328h9v1h-9zM94 329h8v1h-8zM94 330h9v1h-9zM95 331h8v1h-8zM122 317h35v16h-35zM94 332h9v2h-9zM123 333h35v1h-35zM124 334h34v1h-34zM125 335h33v1h-33zM93 334h10v3h-10zM125 336h34v1h-34zM126 337h33v1h-33zM92 337h11v2h-11zM127 338h33v1h-33zM128 339h32v1h-32zM91 339h12v2h-12zM128 340h33v1h-33zM129 341h19v1h-19zM91 341h13v1h-13zM150 341h11v1h-11zM151 342h10v1h-10zM130 342h18v1h-18zM130 343h17v1h-17zM151 343h11v1h-11zM90 342h14v3h-14zM131 344h16v2h-16zM152 344h10v2h-10zM132 346h14v1h-14zM89 345h15v3h-15zM153 346h10v3h-10zM133 347h13v2h-13zM88 348h16v3h-16zM134 349h11v2h-11zM87 351h17v1h-17zM154 349h10v4h-10zM88 352h16v1h-16zM135 351h10v3h-10zM88 353h15v1h-15zM155 353h9v2h-9zM89 354h13v3h-13zM155 355h10v2h-10zM135 354h11v4h-11zM90 357h11v2h-11zM156 357h9v3h-9zM90 359h10v1h-10zM135 358h12v5h-12zM91 360h9v3h-9zM157 360h9v3h-9zM158 363h8v1h-8zM158 364h9v1h-9zM136 363h12v4h-12zM92 363h7v4h-7zM159 365h7v2h-7zM160 367h5v1h-5zM136 367h13v4h-13zM93 367h5v4h-5zM136 371h14v1h-14zM94 371h4v3h-4zM137 372h13v3h-13zM94 374h3v12h-3zM137 375h14v11h-14z"/>
<path fill="#ff5500" d="M181 0h12v1h-12zM182 1h11v22h-11zM88 50h2v4h-2zM88 54h3v1h-3zM87 55h4v5h-4zM183 23h10v38h-10zM86 60h6v7h-6zM184 61h9v6h-9zM86 67h7v6h-7zM185 67h8v11h-8zM86 73h8v6h-8zM86 79h9v5h-9zM85 84h11v4h-11zM85 88h12v4h-12zM85 92h13v3h-13zM84 95h14v1h-14zM84 96h15v4h-15zM186 78h7v23h-7zM83 100h17v1h-17zM84 101h16v1h-16zM187 101h6v2h-6zM85 102h15v1h-15zM85 103h16v1h-16zM188 103h5v2h-5zM86 104h15v2h-15zM189 105h4v3h-4zM87 106h15v3h-15zM190 108h3v2h-3zM88 109h15v2h-15zM191 110h2v2h-2zM88 111h16v2h-16zM192 112h1v2h-1zM89 113h15v1h-15zM89 114h16v2h-16zM89 116h17v3h-17zM89 119h18v2h-18zM90 121h18v3h-18zM90 124h19v2h-19zM90 126h20v2h-20zM91 128h19v2h-19zM92 130h19v3h-19zM93 133h18v5h-18zM94 138h18v6h-18zM94 144h19v2h-19zM95 146h18v2h-18zM95 148h19v22h-19zM95 170h18v1h-18zM95 171h17v1h-17zM96 172h16v2h-16zM97 174h16v1h-16zM98 175h15v1h-15zM99 176h15v1h-15zM99 177h16v1h-16zM100 178h15v1h-15zM101 179h15v1h-15zM102 180h15v1h-15zM87 181h3v1h-3zM103 181h15v1h-15zM87 182h6v1h-6zM104 182h14v1h-14zM105 183h14v1h-14zM87 183h7v1h-7zM106 184h14v1h-14zM87 184h9v1h-9zM107 185h14v1h-14zM88 185h9v1h-9zM88 186h10v1h-10zM108 186h14v1h-14zM109 187h14v1h-14zM89 187h10v1h-10zM110 188h13v1h-13zM89 188h11v1h-11zM90 189h11v1h-11zM111 189h13v1h-13zM112 190h13v1h-13zM91 190h12v1h-12zM92 191h12v1h-12zM113 191h13v2h-13zM93 192h12v1h-12zM114 193h13v1h-13zM93 193h13v1h-13zM115 194h12v1h-12zM94 194h13v1h-13zM117 195h11v1h-11zM95 195h13v1h-13zM118 196h11v1h-11zM96 196h13v1h-13zM119 197h10v1h-10zM97 197h14v1h-14zM98 198h14v1h-14zM120 198h9v1h-9zM122 199h8v1h-8zM99 199h14v1h-14zM123 200h7v1h-7zM99 200h15v1h-15zM100 201h15v1h-15zM126 201h4v1h-4zM101 202h15v1h-15zM85 203h3v1h-3zM102 203h14v1h-14zM103 204h14v1h-14zM85 204h4v1h-4zM85 205h6v1h-6zM104 205h14v1h-14zM105 206h14v1h-14zM85 206h7v1h-7zM86 207h7v1h-7zM106 207h14v1h-14zM86 208h8v1h-8zM107 208h13v1h-13zM108 209h13v1h-13zM87 209h8v1h-8zM87 210h9v1h-9zM109 210h13v1h-13zM110 211h13v1h-13zM88 211h10v1h-10zM89 212h10v1h-10zM110 212h14v1h-14zM90 213h10v1h-10zM111 213h13v1h-13zM112 214h13v1h-13zM91 214h10v1h-10zM91 215h11v1h-11zM113 215h13v1h-13zM92 216h11v1h-11zM114 216h12v1h-12zM93 217h11v1h-11zM116 217h11v1h-11zM94 218h11v1h-11zM117 218h11v1h-11zM95 219h11v1h-11zM118 219h10v1h-10zM96 220h11v1h-11zM119 220h10v1h-10zM77 220h2v1h-2zM97 221h11v1h-11zM120 221h10v1h-10zM77 221h3v2h-3zM98 222h11v1h-11zM121 222h10v1h-10zM98 223h12v1h-12zM122 223h9v1h-9zM99 224h12v1h-12zM124 224h8v1h-8zM78 223h3v3h-3zM125 225h8v1h-8zM100 225h12v1h-12zM127 226h7v1h-7zM79 226h2v1h-2zM101 226h12v1h-12zM102 227h12v1h-12zM128 227h7v1h-7zM85 227h2v1h-2zM103 228h12v1h-12zM85 228h4v1h-4zM129 228h6v1h-6zM85 229h5v1h-5zM131 229h5v1h-5zM104 229h12v1h-12zM85 230h6v1h-6zM105 230h12v1h-12zM132 230h5v1h-5zM106 231h12v1h-12zM85 231h7v1h-7zM133 231h4v1h-4zM107 232h12v1h-12zM134 232h4v1h-4zM86 232h7v1h-7zM86 233h8v1h-8zM108 233h12v1h-12zM109 234h12v1h-12zM87 234h9v1h-9zM88 235h9v1h-9zM110 235h12v1h-12zM111 236h12v1h-12zM89 236h9v1h-9zM89 237h10v1h-10zM112 237h12v1h-12zM90 238h10v1h-10zM113 238h11v1h-11zM114 239h11v1h-11zM91 239h10v1h-10zM92 240h10v1h-10zM115 240h11v1h-11zM93 241h10v1h-10zM116 241h11v1h-11zM94 242h11v1h-11zM117 242h11v1h-11zM118 243h11v1h-11zM94 243h12v1h-12zM119 244h11v1h-11zM95 244h12v1h-12zM120 245h10v1h-10zM96 245h12v1h-12zM121 246h10v1h-10zM97 246h12v1h-12zM98 247h12v1h-12zM122 247h10v1h-10zM99 248h12v1h-12zM123 248h10v1h-10zM125 249h9v1h-9zM100 249h11v1h-11zM126 250h9v1h-9zM100 250h12v1h-12zM127 251h8v1h-8zM101 251h12v1h-12zM102 252h12v1h-12zM86 252h1v1h-1zM128 252h8v1h-8zM129 253h8v1h-8zM103 253h12v1h-12zM85 253h4v1h-4zM85 254h5v1h-5zM130 254h8v1h-8zM104 254h12v1h-12zM105 255h12v1h-12zM86 255h5v1h-5zM131 255h7v1h-7zM106 256h12v1h-12zM86 256h7v1h-7zM133 256h6v1h-6zM86 257h8v1h-8zM107 257h12v1h-12zM134 257h6v1h-6zM135 258h6v1h-6zM87 258h8v1h-8zM108 258h12v1h-12zM109 259h12v1h-12zM88 259h9v1h-9zM137 259h4v1h-4zM138 260h4v1h-4zM88 260h10v1h-10zM110 260h12v1h-12zM89 261h10v1h-10zM111 261h12v1h-12zM139 261h3v1h-3zM90 262h10v1h-10zM112 262h12v1h-12zM113 263h12v1h-12zM91 263h11v1h-11zM91 264h12v1h-12zM114 264h12v1h-12zM92 265h12v1h-12zM115 265h12v1h-12zM116 266h12v1h-12zM93 266h12v1h-12zM94 267h12v1h-12zM117 267h12v1h-12zM118 268h11v1h-11zM95 268h12v1h-12zM95 269h13v1h-13zM119 269h11v1h-11zM96 270h13v1h-13zM120 270h11v1h-11zM121 271h11v1h-11zM97 271h13v1h-13zM98 272h13v1h-13zM122 272h11v1h-11zM98 273h14v1h-14zM124 273h10v1h-10zM125 274h10v1h-10zM99 274h14v1h-14zM126 275h9v1h-9zM100 275h14v1h-14zM127 276h9v1h-9zM101 276h14v1h-14zM128 277h9v1h-9zM101 277h15v1h-15zM86 277h3v1h-3zM86 278h4v1h-4zM102 278h15v1h-15zM129 278h9v1h-9zM86 279h6v1h-6zM131 279h7v1h-7zM103 279h15v1h-15zM132 280h7v1h-7zM104 280h15v1h-15zM86 280h7v1h-7zM133 281h7v1h-7zM105 281h15v1h-15zM86 281h9v1h-9zM105 282h16v1h-16zM87 282h9v1h-9zM134 282h6v1h-6zM87 283h11v1h-11zM106 283h15v1h-15zM136 283h5v1h-5zM106 284h16v1h-16zM88 284h11v1h-11zM138 284h2v1h-2zM89 285h12v1h-12zM107 285h16v1h-16zM107 286h17v1h-17zM90 286h12v1h-12zM90 287h35v1h-35zM91 288h34v1h-34zM92 289h34v1h-34zM93 290h33v1h-33zM93 291h34v1h-34zM94 292h33v1h-33zM95 293h32v1h-32zM95 294h31v1h-31zM95 295h28v1h-28zM95 296h27v4h-27zM95 300h12v1h-12zM108 300h14v1h-14zM95 301h11v1h-11zM109 301h13v1h-13zM95 302h10v1h-10zM111 302h11v1h-11zM112 303h10v1h-10zM95 303h8v1h-8zM113 304h9v1h-9zM95 304h7v2h-7zM114 305h8v1h-8zM95 306h6v2h-6zM95 308h7v1h-7zM95 309h8v1h-8zM95 310h9v1h-9zM115 306h7v6h-7zM96 311h8v1h-8zM96 312h9v1h-9zM96 313h10v2h-10zM97 315h10v3h-10zM116 312h6v7h-6zM97 318h12v1h-12zM98 319h11v1h-11zM98 320h12v1h-12zM99 321h11v2h-11zM117 319h5v5h-5zM99 323h12v1h-12zM100 324h11v2h-11zM118 324h4v4h-4zM101 326h10v2h-10zM102 328h9v2h-9zM119 328h3v3h-3zM103 330h8v1h-8zM120 331h2v1h-2zM119 332h3v1h-3zM103 331h9v3h-9zM119 333h4v1h-4zM119 334h5v1h-5zM103 334h10v1h-10zM103 335h11v2h-11zM118 335h7v2h-7zM117 337h9v1h-9zM103 337h12v2h-12zM116 338h11v1h-11zM103 339h25v2h-25zM104 341h25v1h-25zM104 342h26v2h-26zM104 344h27v2h-27zM104 346h28v1h-28zM104 347h29v2h-29zM104 349h30v2h-30zM104 351h31v2h-31zM103 353h32v1h-32zM102 354h33v3h-33zM101 357h34v2h-34zM100 359h35v4h-35zM99 363h37v4h-37zM98 367h38v2h-38zM111 369h25v1h-25zM98 369h12v2h-12zM112 370h24v2h-24zM98 371h11v2h-11zM113 372h24v1h-24zM98 373h10v1h-10zM97 374h11v1h-11zM114 373h23v3h-23zM97 375h10v2h-10zM97 377h9v1h-9zM115 376h22v10h-22zM97 378h10v8h-10z"/>
<path fill="#ff0000" d="M107 300h1v1h-1zM106 301h3v1h-3zM105 302h6v1h-6zM103 303h9v1h-9zM102 304h11v1h-11zM102 305h12v1h-12zM101 306h14v2h-14zM102 308h13v1h-13zM103 309h12v1h-12zM104 310h11v2h-11zM105 312h11v1h-11zM106 313h10v2h-10zM107 315h9v3h-9zM109 318h7v1h-7zM109 319h8v1h-8zM110 320h7v3h-7zM111 323h6v1h-6zM111 324h7v4h-7zM111 328h8v3h-8zM112 331h8v1h-8zM112 332h7v2h-7zM113 334h6v1h-6zM114 335h4v2h-4zM115 337h2v1h-2zM115 338h1v1h-1zM110 369h1v1h-1zM110 370h2v1h-2zM109 371h3v1h-3zM109 372h4v1h-4zM108 373h6v2h-6zM107 375h7v1h-7zM107 376h8v1h-8zM106 377h9v1h-9zM107 378h8v8h-8z"/>
</g><filter id="bl" x="-2%" y="-2%" width="104%" height="104%"><feGaussianBlur stdDeviation="0.55"/></filter></defs>
<g filter="url(#bl)">
<use href="#q" transform="translate(1138.70 451.05) scale(1 1)"/>
<use href="#q" transform="translate(1138.70 451.05) scale(-1 1)"/>
<use href="#q" transform="translate(1138.70 451.05) scale(1 -1)"/>
<use href="#q" transform="translate(1138.70 451.05) scale(-1 -1)"/>
</g>
<rect x="1123.9" y="297.5" width="31.1" height="307.0" fill="none" stroke="#000" stroke-width="3.7"/>
<path d="M985.2 68.5v9M985.2 833.6v-9M1023.6 68.5v9M1023.6 833.6v-9M1061.9 68.5v9M1061.9 833.6v-9M1100.3 68.5v9M1100.3 833.6v-9M1177.1 68.5v9M1177.1 833.6v-9M1215.5 68.5v9M1215.5 833.6v-9M1253.8 68.5v9M1253.8 833.6v-9M1292.2 68.5v9M1292.2 833.6v-9M948.8 796.5h9M1328.6 796.5h-9M948.8 758.1h9M1328.6 758.1h-9M948.8 719.7h9M1328.6 719.7h-9M948.8 681.3h9M1328.6 681.3h-9M948.8 604.6h9M1328.6 604.6h-9M948.8 566.2h9M1328.6 566.2h-9M948.8 527.8h9M1328.6 527.8h-9M948.8 489.4h9M1328.6 489.4h-9M948.8 412.7h9M1328.6 412.7h-9M948.8 374.3h9M1328.6 374.3h-9M948.8 335.9h9M1328.6 335.9h-9M948.8 297.5h9M1328.6 297.5h-9M948.8 220.8h9M1328.6 220.8h-9M948.8 182.4h9M1328.6 182.4h-9M948.8 144.0h9M1328.6 144.0h-9M948.8 105.6h9M1328.6 105.6h-9" stroke="#000" stroke-opacity="0.6" stroke-width="1.3"/>
<path d="M1138.7 66.5v18M1138.7 835.6v-18M946.8 643.0h18M1330.6 643.0h-18M946.8 451.1h18M1330.6 451.1h-18M946.8 259.2h18M1330.6 259.2h-18" stroke="#000" stroke-width="3.4"/>
<rect x="946.8" y="66.5" width="383.8" height="769.1" fill="none" stroke="#000" stroke-width="4.6"/>
<g font-family="Liberation Sans" font-size="31.2" fill="#000">
<text x="935.5" y="77.1" text-anchor="end">1</text>
<text x="935.5" y="269.0" text-anchor="end">0.5</text>
<text x="935.5" y="460.9" text-anchor="end">0</text>
<text x="935.5" y="652.8" text-anchor="end">-0.5</text>
<text x="935.5" y="844.6" text-anchor="end">-1</text>
<text x="946.8" y="877.3" text-anchor="middle">-0.5</text>
<text x="1138.7" y="877.3" text-anchor="middle">0</text>
<text x="1330.6" y="877.3" text-anchor="middle">0.5</text>
</g>
<g font-family="Liberation Sans" font-weight="bold" font-size="36" fill="#000">
<text x="1138.5" y="910" text-anchor="middle">y [m]</text>
<text transform="translate(879 452.2) rotate(-90)" text-anchor="middle">x [m]</text>
</g>
<rect x="1378.9" y="246.9" width="97.6" height="391.5" fill="#fff" stroke="#808080" stroke-width="1.2"/>
<rect x="1385.3" y="294.9" width="34.9" height="13.6" fill="#ff0000"/>
<rect x="1385.3" y="308.5" width="34.9" height="27.1" fill="#ff5500"/>
<rect x="1385.3" y="335.6" width="34.9" height="27.1" fill="#ffaa00"/>
<rect x="1385.3" y="362.8" width="34.9" height="27.1" fill="#ffff00"/>
<rect x="1385.3" y="389.9" width="34.9" height="27.1" fill="#aaff00"/>
<rect x="1385.3" y="417.0" width="34.9" height="27.1" fill="#55ff00"/>
<rect x="1385.3" y="444.2" width="34.9" height="27.1" fill="#00ff00"/>
<rect x="1385.3" y="471.3" width="34.9" height="27.1" fill="#00ff55"/>
<rect x="1385.3" y="498.5" width="34.9" height="27.1" fill="#00ffaa"/>
<rect x="1385.3" y="525.6" width="34.9" height="27.1" fill="#00ffff"/>
<rect x="1385.3" y="552.7" width="34.9" height="27.1" fill="#00aaff"/>
<rect x="1385.3" y="579.9" width="34.9" height="27.1" fill="#0055ff"/>
<rect x="1385.3" y="607.0" width="34.9" height="13.6" fill="#0000ff"/>
<path d="M1385.3 308.5H1420.2M1385.3 335.6H1420.2M1385.3 362.8H1420.2M1385.3 389.9H1420.2M1385.3 417.0H1420.2M1385.3 444.2H1420.2M1385.3 471.3H1420.2M1385.3 498.5H1420.2M1385.3 525.6H1420.2M1385.3 552.7H1420.2M1385.3 579.9H1420.2M1385.3 607.0H1420.2" stroke="#333" stroke-width="1"/>
<rect x="1385.3" y="294.9" width="34.9" height="325.7" fill="none" stroke="#333" stroke-width="1"/>
<g font-family="Liberation Sans" font-size="21" fill="#000">
<text x="1438.6" y="319.8">1.2</text>
<text x="1438.6" y="346.9">1.1</text>
<text x="1438.6" y="374.1">1</text>
<text x="1438.6" y="401.2">0.9</text>
<text x="1438.6" y="428.3">0.8</text>
<text x="1438.6" y="455.5">0.7</text>
<text x="1438.6" y="482.6">0.6</text>
<text x="1438.6" y="509.8">0.5</text>
<text x="1438.6" y="536.9">0.4</text>
<text x="1438.6" y="564.0">0.3</text>
<text x="1438.6" y="591.2">0.2</text>
<text x="1438.6" y="618.3">0.1</text>
</g>
<path d="M1445.3 268.6C1445.3 264.3 1449.6 262.3 1451.3 265.4L1454.3 275.5M1459.8 263.3L1455.4 274.2L1453.8 281.5" fill="none" stroke="#000" stroke-width="2.3" stroke-linecap="round"/>
<ellipse cx="1453.5" cy="284.3" rx="1.5" ry="3.4" fill="#000"/>
<g>
</g>
<g font-family="Liberation Serif" font-size="38" fill="#000">
<text x="12.6" y="979.5" font-weight="bold" textLength="50.5" lengthAdjust="spacingAndGlyphs">(a)</text>
<text x="76.3" y="985.4" textLength="157.5" lengthAdjust="spacingAndGlyphs">Spectrum</text>
<text x="254.8" y="985.4" textLength="30.4" lengthAdjust="spacingAndGlyphs">of</text>
<text x="305" y="985.4" font-style="italic">η</text>
<text x="323.5" y="985.4">,</text>
<text x="354.3" y="985.4" textLength="183.7" lengthAdjust="spacingAndGlyphs">experiment</text>
<text x="560.1" y="985.4" textLength="45.3" lengthAdjust="spacingAndGlyphs">vs.</text>
<text x="623.1" y="985.4" textLength="90.4" lengthAdjust="spacingAndGlyphs">simu-</text>
<text x="-2.4" y="1026.2" textLength="119.8" lengthAdjust="spacingAndGlyphs">lations.</text>
<text x="134.5" y="1026.2" textLength="222.0" lengthAdjust="spacingAndGlyphs">Experimental</text>
<text x="372.5" y="1026.2" textLength="73.4" lengthAdjust="spacingAndGlyphs">data</text>
<text x="462.1" y="1026.2" textLength="45.2" lengthAdjust="spacingAndGlyphs">for</text>
<text x="522.3" y="1026.2" textLength="191.1" lengthAdjust="spacingAndGlyphs">microphone</text>
<text x="-4.3" y="1067.0" textLength="50.4" lengthAdjust="spacingAndGlyphs">#2</text>
<text x="62.5" y="1067.0" textLength="60.9" lengthAdjust="spacingAndGlyphs">and</text>
<text x="135.7" y="1067.0" textLength="50.4" lengthAdjust="spacingAndGlyphs">#3</text>
<text x="199.3" y="1067.0" textLength="30.4" lengthAdjust="spacingAndGlyphs">of</text>
<text x="243.7" y="1067.0" textLength="64.5" lengthAdjust="spacingAndGlyphs">Fig.</text>
<text x="318.1" y="1067.0" textLength="48.3" lengthAdjust="spacingAndGlyphs">9a.</text>
<text x="843.3" y="975.6" font-weight="bold" textLength="52.8" lengthAdjust="spacingAndGlyphs">(b)</text>
<text x="913.4" y="985.3" textLength="172.1" lengthAdjust="spacingAndGlyphs">Computed</text>
<text x="1107.1" y="985.3" textLength="145.0" lengthAdjust="spacingAndGlyphs">shielding</text>
<text x="1276.1" y="985.3" textLength="95.6" lengthAdjust="spacingAndGlyphs">factor</text>
<text x="1392.7" y="985.3" textLength="31.5" lengthAdjust="spacingAndGlyphs">in</text>
<text x="1447.5" y="985.3" textLength="52.5" lengthAdjust="spacingAndGlyphs">the</text>
<text x="830.6" y="1026.0" textLength="88.1" lengthAdjust="spacingAndGlyphs">plane</text>
<text x="935.6" y="1026.0" textLength="30.4" lengthAdjust="spacingAndGlyphs">of</text>
<text x="983.4" y="1026.0" textLength="52.5" lengthAdjust="spacingAndGlyphs">the</text>
<text x="1054.6" y="1026.0" textLength="216.4" lengthAdjust="spacingAndGlyphs">microphones.</text>
<text x="1291.2" y="1026.0" textLength="141.7" lengthAdjust="spacingAndGlyphs">Cylinder</text>
<text x="1449.9" y="1026.0" textLength="48.3" lengthAdjust="spacingAndGlyphs">ge-</text>
<text x="830.6" y="1067.4" textLength="116.6" lengthAdjust="spacingAndGlyphs">ometry</text>
<text x="960.1" y="1067.4" textLength="103.0" lengthAdjust="spacingAndGlyphs">shown</text>
<text x="1077.9" y="1067.4" textLength="40.9" lengthAdjust="spacingAndGlyphs">by</text>
<text x="1131.9" y="1067.4" textLength="82.9" lengthAdjust="spacingAndGlyphs">thick</text>
<text x="1227.1" y="1067.4" textLength="87.1" lengthAdjust="spacingAndGlyphs">black</text>
<text x="1323.9" y="1067.4" textLength="159.6" lengthAdjust="spacingAndGlyphs">rectangle.</text>
</g>
</svg>
</body></html>
